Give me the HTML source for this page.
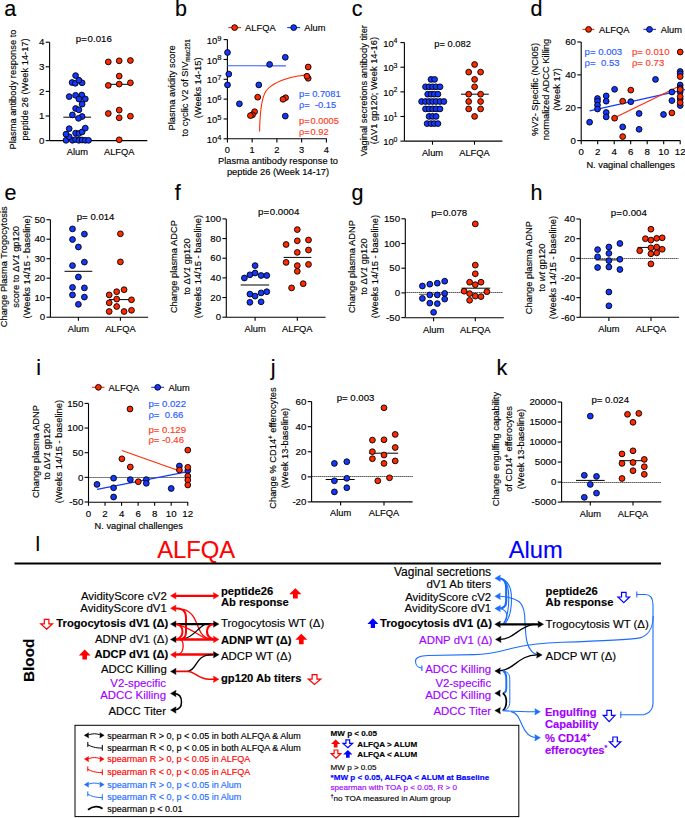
<!DOCTYPE html>
<html><head><meta charset="utf-8"><title>Figure</title>
<style>
html,body{margin:0;padding:0;background:#fff;}
body{width:685px;height:818px;overflow:hidden;}
svg{display:block;font-family:"Liberation Sans", sans-serif;}
</style></head>
<body>
<svg width="685" height="818" viewBox="0 0 685 818">
<rect width="685" height="818" fill="#fff"/>
<text x="4.30" y="15.50" font-size="21.5" text-anchor="start" fill="#000" stroke="#000" stroke-width="0.15">a</text>
<line x1="49.60" y1="42.20" x2="49.60" y2="140.60" stroke="#000" stroke-width="1.1"/>
<line x1="45.70" y1="42.20" x2="49.60" y2="42.20" stroke="#000" stroke-width="1.1"/>
<text x="44.40" y="45.45" font-size="9.7" text-anchor="end" fill="#000" stroke="#000" stroke-width="0.15">4</text>
<line x1="45.70" y1="66.80" x2="49.60" y2="66.80" stroke="#000" stroke-width="1.1"/>
<text x="44.40" y="70.05" font-size="9.7" text-anchor="end" fill="#000" stroke="#000" stroke-width="0.15">3</text>
<line x1="45.70" y1="91.40" x2="49.60" y2="91.40" stroke="#000" stroke-width="1.1"/>
<text x="44.40" y="94.65" font-size="9.7" text-anchor="end" fill="#000" stroke="#000" stroke-width="0.15">2</text>
<line x1="45.70" y1="116.00" x2="49.60" y2="116.00" stroke="#000" stroke-width="1.1"/>
<text x="44.40" y="119.25" font-size="9.7" text-anchor="end" fill="#000" stroke="#000" stroke-width="0.15">1</text>
<line x1="45.70" y1="140.60" x2="49.60" y2="140.60" stroke="#000" stroke-width="1.1"/>
<text x="44.40" y="143.85" font-size="9.7" text-anchor="end" fill="#000" stroke="#000" stroke-width="0.15">0</text>
<line x1="49.60" y1="140.60" x2="147.30" y2="140.60" stroke="#000" stroke-width="1.1"/>
<text x="93.80" y="42.30" font-size="9.7" text-anchor="middle" fill="#000" stroke="#000" stroke-width="0.15">p=<tspan dx="0.7">0.016</tspan></text>
<text x="77.30" y="155.30" font-size="9.3" text-anchor="middle" fill="#000" stroke="#000" stroke-width="0.15">Alum</text>
<text x="119.20" y="155.30" font-size="9.3" text-anchor="middle" fill="#000" stroke="#000" stroke-width="0.15">ALFQA</text>
<text x="15.70" y="89.50" font-size="9.3" text-anchor="middle" fill="#000" stroke="#000" stroke-width="0.15" transform="rotate(-90 15.7 89.5)">Plasma antibody response to</text>
<text x="27.50" y="89.50" font-size="9.3" text-anchor="middle" fill="#000" stroke="#000" stroke-width="0.15" transform="rotate(-90 27.5 89.5)">peptide 26 (Week 14-17)</text>
<line x1="63.30" y1="117.20" x2="91.10" y2="117.20" stroke="#000" stroke-width="1.0"/>
<line x1="109.00" y1="84.30" x2="130.50" y2="84.30" stroke="#000" stroke-width="1.0"/>
<circle cx="66.00" cy="140.30" r="2.9" fill="#1437ff" stroke="#000" stroke-width="0.9"/>
<circle cx="72.40" cy="140.30" r="2.9" fill="#1437ff" stroke="#000" stroke-width="0.9"/>
<circle cx="75.60" cy="139.50" r="2.9" fill="#1437ff" stroke="#000" stroke-width="0.9"/>
<circle cx="78.90" cy="140.30" r="2.9" fill="#1437ff" stroke="#000" stroke-width="0.9"/>
<circle cx="82.10" cy="140.00" r="2.9" fill="#1437ff" stroke="#000" stroke-width="0.9"/>
<circle cx="85.30" cy="140.30" r="2.9" fill="#1437ff" stroke="#000" stroke-width="0.9"/>
<circle cx="88.50" cy="140.30" r="2.9" fill="#1437ff" stroke="#000" stroke-width="0.9"/>
<circle cx="69.20" cy="136.80" r="2.9" fill="#1437ff" stroke="#000" stroke-width="0.9"/>
<circle cx="66.00" cy="134.20" r="2.9" fill="#1437ff" stroke="#000" stroke-width="0.9"/>
<circle cx="75.60" cy="133.10" r="2.9" fill="#1437ff" stroke="#000" stroke-width="0.9"/>
<circle cx="78.90" cy="133.50" r="2.9" fill="#1437ff" stroke="#000" stroke-width="0.9"/>
<circle cx="82.10" cy="131.90" r="2.9" fill="#1437ff" stroke="#000" stroke-width="0.9"/>
<circle cx="69.20" cy="128.70" r="2.9" fill="#1437ff" stroke="#000" stroke-width="0.9"/>
<circle cx="85.30" cy="128.10" r="2.9" fill="#1437ff" stroke="#000" stroke-width="0.9"/>
<circle cx="72.40" cy="114.90" r="2.9" fill="#1437ff" stroke="#000" stroke-width="0.9"/>
<circle cx="82.10" cy="116.50" r="2.9" fill="#1437ff" stroke="#000" stroke-width="0.9"/>
<circle cx="78.50" cy="118.30" r="2.9" fill="#1437ff" stroke="#000" stroke-width="0.9"/>
<circle cx="75.60" cy="108.50" r="2.9" fill="#1437ff" stroke="#000" stroke-width="0.9"/>
<circle cx="78.90" cy="109.80" r="2.9" fill="#1437ff" stroke="#000" stroke-width="0.9"/>
<circle cx="82.10" cy="104.20" r="2.9" fill="#1437ff" stroke="#000" stroke-width="0.9"/>
<circle cx="69.20" cy="96.60" r="2.9" fill="#1437ff" stroke="#000" stroke-width="0.9"/>
<circle cx="75.60" cy="95.30" r="2.9" fill="#1437ff" stroke="#000" stroke-width="0.9"/>
<circle cx="81.80" cy="95.00" r="2.9" fill="#1437ff" stroke="#000" stroke-width="0.9"/>
<circle cx="78.90" cy="99.00" r="2.9" fill="#1437ff" stroke="#000" stroke-width="0.9"/>
<circle cx="85.30" cy="98.90" r="2.9" fill="#1437ff" stroke="#000" stroke-width="0.9"/>
<circle cx="72.10" cy="82.50" r="2.9" fill="#1437ff" stroke="#000" stroke-width="0.9"/>
<circle cx="75.30" cy="83.30" r="2.9" fill="#1437ff" stroke="#000" stroke-width="0.9"/>
<circle cx="82.10" cy="82.80" r="2.9" fill="#1437ff" stroke="#000" stroke-width="0.9"/>
<circle cx="78.90" cy="80.20" r="2.9" fill="#1437ff" stroke="#000" stroke-width="0.9"/>
<circle cx="75.60" cy="75.60" r="2.9" fill="#1437ff" stroke="#000" stroke-width="0.9"/>
<circle cx="108.30" cy="61.90" r="2.9" fill="#ff2a00" stroke="#000" stroke-width="0.9"/>
<circle cx="119.20" cy="60.80" r="2.9" fill="#ff2a00" stroke="#000" stroke-width="0.9"/>
<circle cx="130.40" cy="60.50" r="2.9" fill="#ff2a00" stroke="#000" stroke-width="0.9"/>
<circle cx="119.20" cy="76.10" r="2.9" fill="#ff2a00" stroke="#000" stroke-width="0.9"/>
<circle cx="108.30" cy="85.40" r="2.9" fill="#ff2a00" stroke="#000" stroke-width="0.9"/>
<circle cx="119.20" cy="84.10" r="2.9" fill="#ff2a00" stroke="#000" stroke-width="0.9"/>
<circle cx="130.40" cy="82.80" r="2.9" fill="#ff2a00" stroke="#000" stroke-width="0.9"/>
<circle cx="108.30" cy="113.50" r="2.9" fill="#ff2a00" stroke="#000" stroke-width="0.9"/>
<circle cx="119.20" cy="110.10" r="2.9" fill="#ff2a00" stroke="#000" stroke-width="0.9"/>
<circle cx="119.20" cy="117.80" r="2.9" fill="#ff2a00" stroke="#000" stroke-width="0.9"/>
<circle cx="130.40" cy="116.20" r="2.9" fill="#ff2a00" stroke="#000" stroke-width="0.9"/>
<circle cx="119.20" cy="139.80" r="2.9" fill="#ff2a00" stroke="#000" stroke-width="0.9"/>
<text x="175.10" y="15.50" font-size="21.5" text-anchor="start" fill="#000" stroke="#000" stroke-width="0.15">b</text>
<line x1="227.40" y1="39.60" x2="227.40" y2="138.80" stroke="#000" stroke-width="1.1"/>
<line x1="223.60" y1="39.60" x2="227.40" y2="39.60" stroke="#000" stroke-width="1.1"/>
<text x="217.40" y="43.70" font-size="9.5" text-anchor="end" fill="#000" stroke="#000" stroke-width="0.15">10</text>
<text x="217.30" y="40.60" font-size="7.6" text-anchor="start" fill="#000" stroke="#000" stroke-width="0.15">9</text>
<line x1="223.60" y1="59.44" x2="227.40" y2="59.44" stroke="#000" stroke-width="1.1"/>
<text x="217.40" y="63.54" font-size="9.5" text-anchor="end" fill="#000" stroke="#000" stroke-width="0.15">10</text>
<text x="217.30" y="60.44" font-size="7.6" text-anchor="start" fill="#000" stroke="#000" stroke-width="0.15">8</text>
<line x1="223.60" y1="79.28" x2="227.40" y2="79.28" stroke="#000" stroke-width="1.1"/>
<text x="217.40" y="83.38" font-size="9.5" text-anchor="end" fill="#000" stroke="#000" stroke-width="0.15">10</text>
<text x="217.30" y="80.28" font-size="7.6" text-anchor="start" fill="#000" stroke="#000" stroke-width="0.15">7</text>
<line x1="223.60" y1="99.12" x2="227.40" y2="99.12" stroke="#000" stroke-width="1.1"/>
<text x="217.40" y="103.22" font-size="9.5" text-anchor="end" fill="#000" stroke="#000" stroke-width="0.15">10</text>
<text x="217.30" y="100.12" font-size="7.6" text-anchor="start" fill="#000" stroke="#000" stroke-width="0.15">6</text>
<line x1="223.60" y1="118.96" x2="227.40" y2="118.96" stroke="#000" stroke-width="1.1"/>
<text x="217.40" y="123.06" font-size="9.5" text-anchor="end" fill="#000" stroke="#000" stroke-width="0.15">10</text>
<text x="217.30" y="119.96" font-size="7.6" text-anchor="start" fill="#000" stroke="#000" stroke-width="0.15">5</text>
<line x1="223.60" y1="138.80" x2="227.40" y2="138.80" stroke="#000" stroke-width="1.1"/>
<text x="217.40" y="142.90" font-size="9.5" text-anchor="end" fill="#000" stroke="#000" stroke-width="0.15">10</text>
<text x="217.30" y="139.80" font-size="7.6" text-anchor="start" fill="#000" stroke="#000" stroke-width="0.15">4</text>
<line x1="227.40" y1="138.80" x2="326.80" y2="138.80" stroke="#000" stroke-width="1.1"/>
<line x1="227.40" y1="138.80" x2="227.40" y2="142.60" stroke="#000" stroke-width="1.1"/>
<text x="227.40" y="152.80" font-size="9.3" text-anchor="middle" fill="#000" stroke="#000" stroke-width="0.15">0</text>
<line x1="252.15" y1="138.80" x2="252.15" y2="142.60" stroke="#000" stroke-width="1.1"/>
<text x="252.15" y="152.80" font-size="9.3" text-anchor="middle" fill="#000" stroke="#000" stroke-width="0.15">1</text>
<line x1="276.90" y1="138.80" x2="276.90" y2="142.60" stroke="#000" stroke-width="1.1"/>
<text x="276.90" y="152.80" font-size="9.3" text-anchor="middle" fill="#000" stroke="#000" stroke-width="0.15">2</text>
<line x1="301.65" y1="138.80" x2="301.65" y2="142.60" stroke="#000" stroke-width="1.1"/>
<text x="301.65" y="152.80" font-size="9.3" text-anchor="middle" fill="#000" stroke="#000" stroke-width="0.15">3</text>
<line x1="326.40" y1="138.80" x2="326.40" y2="142.60" stroke="#000" stroke-width="1.1"/>
<text x="326.40" y="152.80" font-size="9.3" text-anchor="middle" fill="#000" stroke="#000" stroke-width="0.15">4</text>
<line x1="228.20" y1="27.60" x2="241.20" y2="27.60" stroke="#ff2a00" stroke-width="1.1"/>
<circle cx="234.60" cy="27.60" r="2.9" fill="#ff2a00" stroke="#000" stroke-width="0.9"/>
<text x="245.10" y="30.90" font-size="9.3" text-anchor="start" fill="#000" stroke="#000" stroke-width="0.15">ALFQA</text>
<line x1="287.20" y1="27.60" x2="300.20" y2="27.60" stroke="#1437ff" stroke-width="1.1"/>
<circle cx="293.70" cy="27.60" r="2.9" fill="#1437ff" stroke="#000" stroke-width="0.9"/>
<text x="304.30" y="30.90" font-size="9.3" text-anchor="start" fill="#000" stroke="#000" stroke-width="0.15">Alum</text>
<line x1="227.40" y1="65.70" x2="285.90" y2="65.90" stroke="#3a5cff" stroke-width="1.1"/>
<path d="M259.6,131.4 C259.9,110 261.5,98 266,91 C272,83 283,79 296.4,76.2 L306.9,74.9" stroke="#ff2a00" stroke-width="1.1" fill="none"/>
<circle cx="227.50" cy="52.50" r="2.9" fill="#1437ff" stroke="#000" stroke-width="0.9"/>
<circle cx="228.80" cy="74.10" r="2.9" fill="#1437ff" stroke="#000" stroke-width="0.9"/>
<circle cx="227.50" cy="84.90" r="2.9" fill="#1437ff" stroke="#000" stroke-width="0.9"/>
<circle cx="239.40" cy="103.80" r="2.9" fill="#1437ff" stroke="#000" stroke-width="0.9"/>
<circle cx="258.80" cy="84.90" r="2.9" fill="#1437ff" stroke="#000" stroke-width="0.9"/>
<circle cx="269.60" cy="64.40" r="2.9" fill="#1437ff" stroke="#000" stroke-width="0.9"/>
<circle cx="285.30" cy="57.30" r="2.9" fill="#1437ff" stroke="#000" stroke-width="0.9"/>
<circle cx="285.30" cy="116.10" r="2.9" fill="#1437ff" stroke="#000" stroke-width="0.9"/>
<circle cx="254.60" cy="111.70" r="2.9" fill="#ff2a00" stroke="#000" stroke-width="0.9"/>
<circle cx="252.50" cy="114.80" r="2.9" fill="#ff2a00" stroke="#000" stroke-width="0.9"/>
<circle cx="250.40" cy="115.60" r="2.9" fill="#ff2a00" stroke="#000" stroke-width="0.9"/>
<circle cx="257.70" cy="97.20" r="2.9" fill="#ff2a00" stroke="#000" stroke-width="0.9"/>
<circle cx="285.60" cy="97.70" r="2.9" fill="#ff2a00" stroke="#000" stroke-width="0.9"/>
<circle cx="283.00" cy="99.30" r="2.9" fill="#ff2a00" stroke="#000" stroke-width="0.9"/>
<circle cx="308.20" cy="67.00" r="2.9" fill="#ff2a00" stroke="#000" stroke-width="0.9"/>
<circle cx="308.20" cy="78.30" r="2.9" fill="#ff2a00" stroke="#000" stroke-width="0.9"/>
<circle cx="306.90" cy="76.20" r="2.9" fill="#ff2a00" stroke="#000" stroke-width="0.9"/>
<text x="299.00" y="96.60" font-size="9.3" text-anchor="start" fill="#2a5aff" stroke="#2a5aff" stroke-width="0.15">p= 0.7081</text>
<text x="299.00" y="107.90" font-size="9.3" text-anchor="start" fill="#2a5aff" stroke="#2a5aff" stroke-width="0.15">ρ=  -0.15</text>
<text x="299.00" y="123.60" font-size="9.3" text-anchor="start" fill="#ff3a1e" stroke="#ff3a1e" stroke-width="0.15">p=<tspan dx="0.9">0.0005</tspan></text>
<text x="299.00" y="135.00" font-size="9.3" text-anchor="start" fill="#ff3a1e" stroke="#ff3a1e" stroke-width="0.15">ρ=<tspan dx="0.9">0.92</tspan></text>
<text x="278.00" y="164.00" font-size="9.3" text-anchor="middle" fill="#000" stroke="#000" stroke-width="0.15">Plasma antibody response to</text>
<text x="278.00" y="175.30" font-size="9.3" text-anchor="middle" fill="#000" stroke="#000" stroke-width="0.15">peptide 26 (Week 14-17)</text>
<text x="175.50" y="87.90" font-size="9.3" text-anchor="middle" fill="#000" stroke="#000" stroke-width="0.15" transform="rotate(-90 175.5 87.9)">Plasma avidity score</text>
<text x="188.20" y="87.90" font-size="9.3" text-anchor="middle" fill="#000" stroke="#000" stroke-width="0.15" transform="rotate(-90 188.2 87.9)">to cyclic V2 of SIV<tspan font-size="6.3" dy="2">mac251</tspan></text>
<text x="200.90" y="87.90" font-size="9.3" text-anchor="middle" fill="#000" stroke="#000" stroke-width="0.15" transform="rotate(-90 200.9 87.9)">(Weeks 14-15)</text>
<text x="351.80" y="15.60" font-size="21.5" text-anchor="start" fill="#000" stroke="#000" stroke-width="0.15">c</text>
<line x1="404.40" y1="42.60" x2="404.40" y2="141.12" stroke="#000" stroke-width="1.1"/>
<line x1="400.40" y1="42.60" x2="404.40" y2="42.60" stroke="#000" stroke-width="1.1"/>
<text x="393.70" y="46.70" font-size="9.4" text-anchor="end" fill="#000" stroke="#000" stroke-width="0.15">10</text>
<text x="393.60" y="43.20" font-size="7.0" text-anchor="start" fill="#000" stroke="#000" stroke-width="0.15">4</text>
<line x1="400.40" y1="67.23" x2="404.40" y2="67.23" stroke="#000" stroke-width="1.1"/>
<text x="393.70" y="71.33" font-size="9.4" text-anchor="end" fill="#000" stroke="#000" stroke-width="0.15">10</text>
<text x="393.60" y="67.83" font-size="7.0" text-anchor="start" fill="#000" stroke="#000" stroke-width="0.15">3</text>
<line x1="400.40" y1="91.86" x2="404.40" y2="91.86" stroke="#000" stroke-width="1.1"/>
<text x="393.70" y="95.96" font-size="9.4" text-anchor="end" fill="#000" stroke="#000" stroke-width="0.15">10</text>
<text x="393.60" y="92.46" font-size="7.0" text-anchor="start" fill="#000" stroke="#000" stroke-width="0.15">2</text>
<line x1="400.40" y1="116.49" x2="404.40" y2="116.49" stroke="#000" stroke-width="1.1"/>
<text x="393.70" y="120.59" font-size="9.4" text-anchor="end" fill="#000" stroke="#000" stroke-width="0.15">10</text>
<text x="393.60" y="117.09" font-size="7.0" text-anchor="start" fill="#000" stroke="#000" stroke-width="0.15">1</text>
<line x1="400.40" y1="141.12" x2="404.40" y2="141.12" stroke="#000" stroke-width="1.1"/>
<text x="393.70" y="145.22" font-size="9.4" text-anchor="end" fill="#000" stroke="#000" stroke-width="0.15">10</text>
<text x="393.60" y="141.72" font-size="7.0" text-anchor="start" fill="#000" stroke="#000" stroke-width="0.15">0</text>
<line x1="404.40" y1="141.10" x2="502.40" y2="141.10" stroke="#000" stroke-width="1.1"/>
<line x1="432.50" y1="141.10" x2="432.50" y2="144.70" stroke="#000" stroke-width="1.1"/>
<line x1="474.50" y1="141.10" x2="474.50" y2="144.70" stroke="#000" stroke-width="1.1"/>
<text x="432.50" y="155.50" font-size="9.3" text-anchor="middle" fill="#000" stroke="#000" stroke-width="0.15">Alum</text>
<text x="474.50" y="155.50" font-size="9.3" text-anchor="middle" fill="#000" stroke="#000" stroke-width="0.15">ALFQA</text>
<text x="452.60" y="47.20" font-size="9.3" text-anchor="middle" fill="#000" stroke="#000" stroke-width="0.15">p= 0.082</text>
<text x="366.70" y="90.60" font-size="9.3" text-anchor="middle" fill="#000" stroke="#000" stroke-width="0.15" transform="rotate(-90 366.70000000000005 90.6)">Vaginal secretions antibody titer</text>
<text x="377.50" y="90.60" font-size="9.3" text-anchor="middle" fill="#000" stroke="#000" stroke-width="0.15" transform="rotate(-90 377.5 90.6)">(ΔV1 gp120; Week 14-16)</text>
<circle cx="431.00" cy="79.40" r="2.9" fill="#1437ff" stroke="#000" stroke-width="0.9"/>
<circle cx="434.60" cy="79.40" r="2.9" fill="#1437ff" stroke="#000" stroke-width="0.9"/>
<circle cx="425.50" cy="86.80" r="2.9" fill="#1437ff" stroke="#000" stroke-width="0.9"/>
<circle cx="429.10" cy="86.80" r="2.9" fill="#1437ff" stroke="#000" stroke-width="0.9"/>
<circle cx="432.60" cy="86.80" r="2.9" fill="#1437ff" stroke="#000" stroke-width="0.9"/>
<circle cx="436.10" cy="86.80" r="2.9" fill="#1437ff" stroke="#000" stroke-width="0.9"/>
<circle cx="440.00" cy="86.80" r="2.9" fill="#1437ff" stroke="#000" stroke-width="0.9"/>
<circle cx="427.70" cy="94.20" r="2.9" fill="#1437ff" stroke="#000" stroke-width="0.9"/>
<circle cx="431.00" cy="94.20" r="2.9" fill="#1437ff" stroke="#000" stroke-width="0.9"/>
<circle cx="434.30" cy="94.20" r="2.9" fill="#1437ff" stroke="#000" stroke-width="0.9"/>
<circle cx="437.90" cy="94.20" r="2.9" fill="#1437ff" stroke="#000" stroke-width="0.9"/>
<circle cx="421.60" cy="101.50" r="2.9" fill="#1437ff" stroke="#000" stroke-width="0.9"/>
<circle cx="425.50" cy="101.50" r="2.9" fill="#1437ff" stroke="#000" stroke-width="0.9"/>
<circle cx="429.10" cy="101.50" r="2.9" fill="#1437ff" stroke="#000" stroke-width="0.9"/>
<circle cx="432.60" cy="101.50" r="2.9" fill="#1437ff" stroke="#000" stroke-width="0.9"/>
<circle cx="436.10" cy="101.50" r="2.9" fill="#1437ff" stroke="#000" stroke-width="0.9"/>
<circle cx="440.00" cy="101.50" r="2.9" fill="#1437ff" stroke="#000" stroke-width="0.9"/>
<circle cx="443.90" cy="101.50" r="2.9" fill="#1437ff" stroke="#000" stroke-width="0.9"/>
<circle cx="425.50" cy="108.90" r="2.9" fill="#1437ff" stroke="#000" stroke-width="0.9"/>
<circle cx="429.10" cy="108.90" r="2.9" fill="#1437ff" stroke="#000" stroke-width="0.9"/>
<circle cx="432.60" cy="108.90" r="2.9" fill="#1437ff" stroke="#000" stroke-width="0.9"/>
<circle cx="436.10" cy="108.90" r="2.9" fill="#1437ff" stroke="#000" stroke-width="0.9"/>
<circle cx="440.00" cy="108.90" r="2.9" fill="#1437ff" stroke="#000" stroke-width="0.9"/>
<circle cx="429.10" cy="116.40" r="2.9" fill="#1437ff" stroke="#000" stroke-width="0.9"/>
<circle cx="432.60" cy="116.40" r="2.9" fill="#1437ff" stroke="#000" stroke-width="0.9"/>
<circle cx="436.10" cy="116.40" r="2.9" fill="#1437ff" stroke="#000" stroke-width="0.9"/>
<circle cx="427.10" cy="123.60" r="2.9" fill="#1437ff" stroke="#000" stroke-width="0.9"/>
<circle cx="431.00" cy="123.60" r="2.9" fill="#1437ff" stroke="#000" stroke-width="0.9"/>
<circle cx="434.30" cy="123.60" r="2.9" fill="#1437ff" stroke="#000" stroke-width="0.9"/>
<circle cx="437.90" cy="123.60" r="2.9" fill="#1437ff" stroke="#000" stroke-width="0.9"/>
<line x1="461.00" y1="94.20" x2="488.80" y2="94.20" stroke="#000" stroke-width="1.0"/>
<circle cx="474.60" cy="64.50" r="2.9" fill="#ff2a00" stroke="#000" stroke-width="0.9"/>
<circle cx="468.70" cy="72.10" r="2.9" fill="#ff2a00" stroke="#000" stroke-width="0.9"/>
<circle cx="480.60" cy="72.10" r="2.9" fill="#ff2a00" stroke="#000" stroke-width="0.9"/>
<circle cx="474.60" cy="79.40" r="2.9" fill="#ff2a00" stroke="#000" stroke-width="0.9"/>
<circle cx="474.60" cy="86.80" r="2.9" fill="#ff2a00" stroke="#000" stroke-width="0.9"/>
<circle cx="468.70" cy="94.20" r="2.9" fill="#ff2a00" stroke="#000" stroke-width="0.9"/>
<circle cx="480.60" cy="94.20" r="2.9" fill="#ff2a00" stroke="#000" stroke-width="0.9"/>
<circle cx="468.70" cy="101.50" r="2.9" fill="#ff2a00" stroke="#000" stroke-width="0.9"/>
<circle cx="480.60" cy="101.50" r="2.9" fill="#ff2a00" stroke="#000" stroke-width="0.9"/>
<circle cx="468.70" cy="108.90" r="2.9" fill="#ff2a00" stroke="#000" stroke-width="0.9"/>
<circle cx="480.60" cy="108.90" r="2.9" fill="#ff2a00" stroke="#000" stroke-width="0.9"/>
<circle cx="474.60" cy="116.40" r="2.9" fill="#ff2a00" stroke="#000" stroke-width="0.9"/>
<text x="530.50" y="15.60" font-size="21.5" text-anchor="start" fill="#000" stroke="#000" stroke-width="0.15">d</text>
<line x1="581.20" y1="42.00" x2="581.20" y2="140.61" stroke="#000" stroke-width="1.1"/>
<line x1="577.30" y1="42.00" x2="581.20" y2="42.00" stroke="#000" stroke-width="1.1"/>
<text x="576.00" y="45.25" font-size="9.7" text-anchor="end" fill="#000" stroke="#000" stroke-width="0.15">60</text>
<line x1="577.30" y1="74.87" x2="581.20" y2="74.87" stroke="#000" stroke-width="1.1"/>
<text x="576.00" y="78.12" font-size="9.7" text-anchor="end" fill="#000" stroke="#000" stroke-width="0.15">40</text>
<line x1="577.30" y1="107.74" x2="581.20" y2="107.74" stroke="#000" stroke-width="1.1"/>
<text x="576.00" y="110.99" font-size="9.7" text-anchor="end" fill="#000" stroke="#000" stroke-width="0.15">20</text>
<line x1="577.30" y1="140.61" x2="581.20" y2="140.61" stroke="#000" stroke-width="1.1"/>
<text x="576.00" y="143.86" font-size="9.7" text-anchor="end" fill="#000" stroke="#000" stroke-width="0.15">0</text>
<line x1="581.20" y1="140.60" x2="680.30" y2="140.60" stroke="#000" stroke-width="1.1"/>
<line x1="581.20" y1="140.60" x2="581.20" y2="144.20" stroke="#000" stroke-width="1.1"/>
<text x="581.20" y="154.90" font-size="9.7" text-anchor="middle" fill="#000" stroke="#000" stroke-width="0.15">0</text>
<line x1="597.70" y1="140.60" x2="597.70" y2="144.20" stroke="#000" stroke-width="1.1"/>
<text x="597.70" y="154.90" font-size="9.7" text-anchor="middle" fill="#000" stroke="#000" stroke-width="0.15">2</text>
<line x1="614.20" y1="140.60" x2="614.20" y2="144.20" stroke="#000" stroke-width="1.1"/>
<text x="614.20" y="154.90" font-size="9.7" text-anchor="middle" fill="#000" stroke="#000" stroke-width="0.15">4</text>
<line x1="630.70" y1="140.60" x2="630.70" y2="144.20" stroke="#000" stroke-width="1.1"/>
<text x="630.70" y="154.90" font-size="9.7" text-anchor="middle" fill="#000" stroke="#000" stroke-width="0.15">6</text>
<line x1="647.20" y1="140.60" x2="647.20" y2="144.20" stroke="#000" stroke-width="1.1"/>
<text x="647.20" y="154.90" font-size="9.7" text-anchor="middle" fill="#000" stroke="#000" stroke-width="0.15">8</text>
<line x1="663.70" y1="140.60" x2="663.70" y2="144.20" stroke="#000" stroke-width="1.1"/>
<text x="663.70" y="154.90" font-size="9.7" text-anchor="middle" fill="#000" stroke="#000" stroke-width="0.15">10</text>
<line x1="680.20" y1="140.60" x2="680.20" y2="144.20" stroke="#000" stroke-width="1.1"/>
<text x="680.20" y="154.90" font-size="9.7" text-anchor="middle" fill="#000" stroke="#000" stroke-width="0.15">12</text>
<text x="630.60" y="167.60" font-size="9.3" text-anchor="middle" fill="#000" stroke="#000" stroke-width="0.15">N. vaginal challenges</text>
<text x="538.10" y="89.50" font-size="9.3" text-anchor="middle" fill="#000" stroke="#000" stroke-width="0.15" transform="rotate(-90 538.1 89.5)">%V2- Specific (NCI05)</text>
<text x="549.20" y="89.50" font-size="9.3" text-anchor="middle" fill="#000" stroke="#000" stroke-width="0.15" transform="rotate(-90 549.2 89.5)">normalized ADCC Killing</text>
<text x="560.00" y="89.50" font-size="9.3" text-anchor="middle" fill="#000" stroke="#000" stroke-width="0.15" transform="rotate(-90 560.0 89.5)">(Week 17)</text>
<line x1="582.50" y1="29.40" x2="594.30" y2="29.40" stroke="#ff2a00" stroke-width="1.1"/>
<circle cx="588.60" cy="29.40" r="2.9" fill="#ff2a00" stroke="#000" stroke-width="0.9"/>
<text x="599.00" y="32.70" font-size="9.3" text-anchor="start" fill="#000" stroke="#000" stroke-width="0.15">ALFQA</text>
<line x1="643.50" y1="29.40" x2="656.00" y2="29.40" stroke="#1437ff" stroke-width="1.1"/>
<circle cx="649.50" cy="29.40" r="2.9" fill="#1437ff" stroke="#000" stroke-width="0.9"/>
<text x="660.80" y="32.70" font-size="9.3" text-anchor="start" fill="#000" stroke="#000" stroke-width="0.15">Alum</text>
<text x="584.60" y="55.30" font-size="9.6" text-anchor="start" fill="#2a5aff" stroke="#2a5aff" stroke-width="0.15">p= 0.003</text>
<text x="584.60" y="65.80" font-size="9.6" text-anchor="start" fill="#2a5aff" stroke="#2a5aff" stroke-width="0.15">ρ=  0.53</text>
<text x="631.90" y="55.30" font-size="9.6" text-anchor="start" fill="#ff3a1e" stroke="#ff3a1e" stroke-width="0.15">p= 0.010</text>
<text x="631.90" y="65.80" font-size="9.6" text-anchor="start" fill="#ff3a1e" stroke="#ff3a1e" stroke-width="0.15">ρ= 0.73</text>
<line x1="589.60" y1="110.90" x2="685.00" y2="89.60" stroke="#1437ff" stroke-width="1.1"/>
<line x1="614.60" y1="117.70" x2="678.00" y2="86.80" stroke="#ff2a00" stroke-width="1.1"/>
<circle cx="589.60" cy="122.20" r="2.9" fill="#1437ff" stroke="#000" stroke-width="0.9"/>
<circle cx="597.50" cy="98.50" r="2.9" fill="#1437ff" stroke="#000" stroke-width="0.9"/>
<circle cx="597.50" cy="101.20" r="2.9" fill="#1437ff" stroke="#000" stroke-width="0.9"/>
<circle cx="597.50" cy="105.10" r="2.9" fill="#1437ff" stroke="#000" stroke-width="0.9"/>
<circle cx="597.50" cy="109.00" r="2.9" fill="#1437ff" stroke="#000" stroke-width="0.9"/>
<circle cx="606.20" cy="95.90" r="2.9" fill="#1437ff" stroke="#000" stroke-width="0.9"/>
<circle cx="606.20" cy="101.20" r="2.9" fill="#1437ff" stroke="#000" stroke-width="0.9"/>
<circle cx="606.20" cy="112.50" r="2.9" fill="#1437ff" stroke="#000" stroke-width="0.9"/>
<circle cx="606.20" cy="116.90" r="2.9" fill="#1437ff" stroke="#000" stroke-width="0.9"/>
<circle cx="614.60" cy="89.30" r="2.9" fill="#1437ff" stroke="#000" stroke-width="0.9"/>
<circle cx="622.70" cy="126.90" r="2.9" fill="#1437ff" stroke="#000" stroke-width="0.9"/>
<circle cx="630.80" cy="101.70" r="2.9" fill="#1437ff" stroke="#000" stroke-width="0.9"/>
<circle cx="639.10" cy="113.50" r="2.9" fill="#1437ff" stroke="#000" stroke-width="0.9"/>
<circle cx="639.10" cy="129.30" r="2.9" fill="#1437ff" stroke="#000" stroke-width="0.9"/>
<circle cx="655.50" cy="79.40" r="2.9" fill="#1437ff" stroke="#000" stroke-width="0.9"/>
<circle cx="663.50" cy="114.50" r="2.9" fill="#1437ff" stroke="#000" stroke-width="0.9"/>
<circle cx="671.90" cy="92.00" r="2.9" fill="#1437ff" stroke="#000" stroke-width="0.9"/>
<circle cx="671.90" cy="100.60" r="2.9" fill="#1437ff" stroke="#000" stroke-width="0.9"/>
<circle cx="680.20" cy="71.50" r="2.9" fill="#1437ff" stroke="#000" stroke-width="0.9"/>
<circle cx="680.20" cy="73.70" r="2.9" fill="#1437ff" stroke="#000" stroke-width="0.9"/>
<circle cx="680.20" cy="85.00" r="2.9" fill="#1437ff" stroke="#000" stroke-width="0.9"/>
<circle cx="680.20" cy="88.00" r="2.9" fill="#1437ff" stroke="#000" stroke-width="0.9"/>
<circle cx="680.20" cy="92.00" r="2.9" fill="#1437ff" stroke="#000" stroke-width="0.9"/>
<circle cx="680.20" cy="99.00" r="2.9" fill="#1437ff" stroke="#000" stroke-width="0.9"/>
<circle cx="680.20" cy="105.50" r="2.9" fill="#1437ff" stroke="#000" stroke-width="0.9"/>
<circle cx="614.60" cy="118.20" r="2.9" fill="#ff2a00" stroke="#000" stroke-width="0.9"/>
<circle cx="622.70" cy="101.20" r="2.9" fill="#ff2a00" stroke="#000" stroke-width="0.9"/>
<circle cx="622.70" cy="136.60" r="2.9" fill="#ff2a00" stroke="#000" stroke-width="0.9"/>
<circle cx="630.80" cy="90.10" r="2.9" fill="#ff2a00" stroke="#000" stroke-width="0.9"/>
<circle cx="671.90" cy="112.90" r="2.9" fill="#ff2a00" stroke="#000" stroke-width="0.9"/>
<circle cx="680.20" cy="52.00" r="2.9" fill="#ff2a00" stroke="#000" stroke-width="0.9"/>
<circle cx="680.20" cy="76.60" r="2.9" fill="#ff2a00" stroke="#000" stroke-width="0.9"/>
<circle cx="680.20" cy="89.50" r="2.9" fill="#ff2a00" stroke="#000" stroke-width="0.9"/>
<circle cx="680.20" cy="96.50" r="2.9" fill="#ff2a00" stroke="#000" stroke-width="0.9"/>
<circle cx="680.20" cy="102.60" r="2.9" fill="#ff2a00" stroke="#000" stroke-width="0.9"/>
<text x="4.50" y="199.90" font-size="21.5" text-anchor="start" fill="#000" stroke="#000" stroke-width="0.15">e</text>
<line x1="50.40" y1="219.70" x2="50.40" y2="317.20" stroke="#000" stroke-width="1.1"/>
<line x1="46.50" y1="219.70" x2="50.40" y2="219.70" stroke="#000" stroke-width="1.1"/>
<text x="45.20" y="222.95" font-size="9.7" text-anchor="end" fill="#000" stroke="#000" stroke-width="0.15">50</text>
<line x1="46.50" y1="239.20" x2="50.40" y2="239.20" stroke="#000" stroke-width="1.1"/>
<text x="45.20" y="242.45" font-size="9.7" text-anchor="end" fill="#000" stroke="#000" stroke-width="0.15">40</text>
<line x1="46.50" y1="258.70" x2="50.40" y2="258.70" stroke="#000" stroke-width="1.1"/>
<text x="45.20" y="261.95" font-size="9.7" text-anchor="end" fill="#000" stroke="#000" stroke-width="0.15">30</text>
<line x1="46.50" y1="278.20" x2="50.40" y2="278.20" stroke="#000" stroke-width="1.1"/>
<text x="45.20" y="281.45" font-size="9.7" text-anchor="end" fill="#000" stroke="#000" stroke-width="0.15">20</text>
<line x1="46.50" y1="297.70" x2="50.40" y2="297.70" stroke="#000" stroke-width="1.1"/>
<text x="45.20" y="300.95" font-size="9.7" text-anchor="end" fill="#000" stroke="#000" stroke-width="0.15">10</text>
<line x1="46.50" y1="317.20" x2="50.40" y2="317.20" stroke="#000" stroke-width="1.1"/>
<text x="45.20" y="320.45" font-size="9.7" text-anchor="end" fill="#000" stroke="#000" stroke-width="0.15">0</text>
<line x1="50.40" y1="317.20" x2="148.20" y2="317.20" stroke="#000" stroke-width="1.1"/>
<line x1="78.40" y1="317.20" x2="78.40" y2="320.80" stroke="#000" stroke-width="1.1"/>
<line x1="120.40" y1="317.20" x2="120.40" y2="320.80" stroke="#000" stroke-width="1.1"/>
<text x="78.40" y="332.00" font-size="9.3" text-anchor="middle" fill="#000" stroke="#000" stroke-width="0.15">Alum</text>
<text x="120.40" y="332.00" font-size="9.3" text-anchor="middle" fill="#000" stroke="#000" stroke-width="0.15">ALFQA</text>
<text x="95.60" y="220.40" font-size="9.6" text-anchor="middle" fill="#000" stroke="#000" stroke-width="0.15">p= 0.014</text>
<text x="7.10" y="266.80" font-size="9.3" text-anchor="middle" fill="#000" stroke="#000" stroke-width="0.15" transform="rotate(-90 7.1 266.8)">Change Plasma Trogocytosis</text>
<text x="19.00" y="266.80" font-size="9.3" text-anchor="middle" fill="#000" stroke="#000" stroke-width="0.15" transform="rotate(-90 19.0 266.8)">score to Δ<tspan font-style="italic">V1</tspan> gp120</text>
<text x="29.60" y="266.80" font-size="9.3" text-anchor="middle" fill="#000" stroke="#000" stroke-width="0.15" transform="rotate(-90 29.6 266.8)">(Weeks 14/15 - baseline)</text>
<line x1="64.50" y1="271.30" x2="92.30" y2="271.30" stroke="#000" stroke-width="1.0"/>
<line x1="109.00" y1="299.60" x2="131.50" y2="299.60" stroke="#000" stroke-width="1.0"/>
<circle cx="72.50" cy="228.90" r="2.9" fill="#1437ff" stroke="#000" stroke-width="0.9"/>
<circle cx="84.40" cy="234.10" r="2.9" fill="#1437ff" stroke="#000" stroke-width="0.9"/>
<circle cx="72.50" cy="239.50" r="2.9" fill="#1437ff" stroke="#000" stroke-width="0.9"/>
<circle cx="78.40" cy="247.00" r="2.9" fill="#1437ff" stroke="#000" stroke-width="0.9"/>
<circle cx="84.40" cy="262.10" r="2.9" fill="#1437ff" stroke="#000" stroke-width="0.9"/>
<circle cx="72.50" cy="265.60" r="2.9" fill="#1437ff" stroke="#000" stroke-width="0.9"/>
<circle cx="78.40" cy="277.00" r="2.9" fill="#1437ff" stroke="#000" stroke-width="0.9"/>
<circle cx="72.50" cy="287.40" r="2.9" fill="#1437ff" stroke="#000" stroke-width="0.9"/>
<circle cx="84.40" cy="287.90" r="2.9" fill="#1437ff" stroke="#000" stroke-width="0.9"/>
<circle cx="72.50" cy="294.90" r="2.9" fill="#1437ff" stroke="#000" stroke-width="0.9"/>
<circle cx="84.40" cy="297.10" r="2.9" fill="#1437ff" stroke="#000" stroke-width="0.9"/>
<circle cx="78.40" cy="304.30" r="2.9" fill="#1437ff" stroke="#000" stroke-width="0.9"/>
<circle cx="120.40" cy="233.80" r="2.9" fill="#ff2a00" stroke="#000" stroke-width="0.9"/>
<circle cx="120.40" cy="261.90" r="2.9" fill="#ff2a00" stroke="#000" stroke-width="0.9"/>
<circle cx="109.20" cy="294.90" r="2.9" fill="#ff2a00" stroke="#000" stroke-width="0.9"/>
<circle cx="116.70" cy="291.70" r="2.9" fill="#ff2a00" stroke="#000" stroke-width="0.9"/>
<circle cx="124.10" cy="289.70" r="2.9" fill="#ff2a00" stroke="#000" stroke-width="0.9"/>
<circle cx="109.20" cy="302.80" r="2.9" fill="#ff2a00" stroke="#000" stroke-width="0.9"/>
<circle cx="116.70" cy="299.10" r="2.9" fill="#ff2a00" stroke="#000" stroke-width="0.9"/>
<circle cx="131.50" cy="299.80" r="2.9" fill="#ff2a00" stroke="#000" stroke-width="0.9"/>
<circle cx="116.70" cy="306.50" r="2.9" fill="#ff2a00" stroke="#000" stroke-width="0.9"/>
<circle cx="109.20" cy="311.50" r="2.9" fill="#ff2a00" stroke="#000" stroke-width="0.9"/>
<circle cx="124.10" cy="311.50" r="2.9" fill="#ff2a00" stroke="#000" stroke-width="0.9"/>
<circle cx="131.50" cy="310.30" r="2.9" fill="#ff2a00" stroke="#000" stroke-width="0.9"/>
<text x="174.70" y="199.90" font-size="21.5" text-anchor="start" fill="#000" stroke="#000" stroke-width="0.15">f</text>
<line x1="226.30" y1="218.90" x2="226.30" y2="317.20" stroke="#000" stroke-width="1.1"/>
<line x1="222.40" y1="218.90" x2="226.30" y2="218.90" stroke="#000" stroke-width="1.1"/>
<text x="221.10" y="222.15" font-size="9.7" text-anchor="end" fill="#000" stroke="#000" stroke-width="0.15">100</text>
<line x1="222.40" y1="238.56" x2="226.30" y2="238.56" stroke="#000" stroke-width="1.1"/>
<text x="221.10" y="241.81" font-size="9.7" text-anchor="end" fill="#000" stroke="#000" stroke-width="0.15">80</text>
<line x1="222.40" y1="258.22" x2="226.30" y2="258.22" stroke="#000" stroke-width="1.1"/>
<text x="221.10" y="261.47" font-size="9.7" text-anchor="end" fill="#000" stroke="#000" stroke-width="0.15">60</text>
<line x1="222.40" y1="277.88" x2="226.30" y2="277.88" stroke="#000" stroke-width="1.1"/>
<text x="221.10" y="281.13" font-size="9.7" text-anchor="end" fill="#000" stroke="#000" stroke-width="0.15">40</text>
<line x1="222.40" y1="297.54" x2="226.30" y2="297.54" stroke="#000" stroke-width="1.1"/>
<text x="221.10" y="300.79" font-size="9.7" text-anchor="end" fill="#000" stroke="#000" stroke-width="0.15">20</text>
<line x1="222.40" y1="317.20" x2="226.30" y2="317.20" stroke="#000" stroke-width="1.1"/>
<text x="221.10" y="320.45" font-size="9.7" text-anchor="end" fill="#000" stroke="#000" stroke-width="0.15">0</text>
<line x1="226.30" y1="317.20" x2="325.60" y2="317.20" stroke="#000" stroke-width="1.1"/>
<line x1="255.10" y1="317.20" x2="255.10" y2="320.80" stroke="#000" stroke-width="1.1"/>
<line x1="297.30" y1="317.20" x2="297.30" y2="320.80" stroke="#000" stroke-width="1.1"/>
<text x="255.10" y="332.00" font-size="9.3" text-anchor="middle" fill="#000" stroke="#000" stroke-width="0.15">Alum</text>
<text x="297.30" y="332.00" font-size="9.3" text-anchor="middle" fill="#000" stroke="#000" stroke-width="0.15">ALFQA</text>
<text x="278.70" y="215.40" font-size="9.7" text-anchor="middle" fill="#000" stroke="#000" stroke-width="0.15">p=<tspan dx="0.7">0.0004</tspan></text>
<text x="177.50" y="266.60" font-size="9.3" text-anchor="middle" fill="#000" stroke="#000" stroke-width="0.15" transform="rotate(-90 177.5 266.6)">Change plasma ADCP</text>
<text x="189.90" y="266.60" font-size="9.3" text-anchor="middle" fill="#000" stroke="#000" stroke-width="0.15" transform="rotate(-90 189.9 266.6)">to Δ<tspan font-style="italic">V1</tspan> gp120</text>
<text x="201.00" y="266.60" font-size="9.3" text-anchor="middle" fill="#000" stroke="#000" stroke-width="0.15" transform="rotate(-90 201.0 266.6)">(Weeks 14/15 - baseline)</text>
<line x1="240.70" y1="285.00" x2="269.20" y2="285.00" stroke="#000" stroke-width="1.0"/>
<line x1="283.60" y1="257.40" x2="311.40" y2="257.40" stroke="#000" stroke-width="1.0"/>
<circle cx="255.10" cy="265.60" r="2.9" fill="#1437ff" stroke="#000" stroke-width="0.9"/>
<circle cx="244.40" cy="278.00" r="2.9" fill="#1437ff" stroke="#000" stroke-width="0.9"/>
<circle cx="249.90" cy="274.80" r="2.9" fill="#1437ff" stroke="#000" stroke-width="0.9"/>
<circle cx="255.10" cy="273.00" r="2.9" fill="#1437ff" stroke="#000" stroke-width="0.9"/>
<circle cx="261.10" cy="275.50" r="2.9" fill="#1437ff" stroke="#000" stroke-width="0.9"/>
<circle cx="266.80" cy="275.50" r="2.9" fill="#1437ff" stroke="#000" stroke-width="0.9"/>
<circle cx="249.90" cy="294.10" r="2.9" fill="#1437ff" stroke="#000" stroke-width="0.9"/>
<circle cx="255.10" cy="296.10" r="2.9" fill="#1437ff" stroke="#000" stroke-width="0.9"/>
<circle cx="261.10" cy="292.90" r="2.9" fill="#1437ff" stroke="#000" stroke-width="0.9"/>
<circle cx="266.80" cy="291.70" r="2.9" fill="#1437ff" stroke="#000" stroke-width="0.9"/>
<circle cx="249.90" cy="302.30" r="2.9" fill="#1437ff" stroke="#000" stroke-width="0.9"/>
<circle cx="261.10" cy="301.80" r="2.9" fill="#1437ff" stroke="#000" stroke-width="0.9"/>
<circle cx="297.30" cy="229.60" r="2.9" fill="#ff2a00" stroke="#000" stroke-width="0.9"/>
<circle cx="286.10" cy="244.50" r="2.9" fill="#ff2a00" stroke="#000" stroke-width="0.9"/>
<circle cx="297.30" cy="240.80" r="2.9" fill="#ff2a00" stroke="#000" stroke-width="0.9"/>
<circle cx="308.50" cy="240.00" r="2.9" fill="#ff2a00" stroke="#000" stroke-width="0.9"/>
<circle cx="297.30" cy="252.40" r="2.9" fill="#ff2a00" stroke="#000" stroke-width="0.9"/>
<circle cx="308.50" cy="250.00" r="2.9" fill="#ff2a00" stroke="#000" stroke-width="0.9"/>
<circle cx="286.10" cy="262.40" r="2.9" fill="#ff2a00" stroke="#000" stroke-width="0.9"/>
<circle cx="297.30" cy="265.60" r="2.9" fill="#ff2a00" stroke="#000" stroke-width="0.9"/>
<circle cx="308.50" cy="264.40" r="2.9" fill="#ff2a00" stroke="#000" stroke-width="0.9"/>
<circle cx="297.30" cy="271.30" r="2.9" fill="#ff2a00" stroke="#000" stroke-width="0.9"/>
<circle cx="303.20" cy="283.70" r="2.9" fill="#ff2a00" stroke="#000" stroke-width="0.9"/>
<circle cx="291.60" cy="287.90" r="2.9" fill="#ff2a00" stroke="#000" stroke-width="0.9"/>
<text x="351.50" y="199.90" font-size="21.5" text-anchor="start" fill="#000" stroke="#000" stroke-width="0.15">g</text>
<line x1="405.30" y1="218.80" x2="405.30" y2="317.60" stroke="#000" stroke-width="1.1"/>
<line x1="401.40" y1="218.80" x2="405.30" y2="218.80" stroke="#000" stroke-width="1.1"/>
<text x="400.10" y="222.05" font-size="9.7" text-anchor="end" fill="#000" stroke="#000" stroke-width="0.15">150</text>
<line x1="401.40" y1="243.50" x2="405.30" y2="243.50" stroke="#000" stroke-width="1.1"/>
<text x="400.10" y="246.75" font-size="9.7" text-anchor="end" fill="#000" stroke="#000" stroke-width="0.15">100</text>
<line x1="401.40" y1="268.20" x2="405.30" y2="268.20" stroke="#000" stroke-width="1.1"/>
<text x="400.10" y="271.45" font-size="9.7" text-anchor="end" fill="#000" stroke="#000" stroke-width="0.15">50</text>
<line x1="401.40" y1="292.90" x2="405.30" y2="292.90" stroke="#000" stroke-width="1.1"/>
<text x="400.10" y="296.15" font-size="9.7" text-anchor="end" fill="#000" stroke="#000" stroke-width="0.15">0</text>
<line x1="401.40" y1="317.60" x2="405.30" y2="317.60" stroke="#000" stroke-width="1.1"/>
<text x="400.10" y="320.85" font-size="9.7" text-anchor="end" fill="#000" stroke="#000" stroke-width="0.15">-50</text>
<line x1="405.30" y1="317.70" x2="503.80" y2="317.70" stroke="#000" stroke-width="1.1"/>
<line x1="405.30" y1="292.50" x2="502.60" y2="292.50" stroke="#111" stroke-width="1.0" stroke-dasharray="1.1,0.9"/>
<line x1="433.60" y1="317.70" x2="433.60" y2="321.30" stroke="#000" stroke-width="1.1"/>
<line x1="475.30" y1="317.70" x2="475.30" y2="321.30" stroke="#000" stroke-width="1.1"/>
<text x="433.60" y="332.50" font-size="9.3" text-anchor="middle" fill="#000" stroke="#000" stroke-width="0.15">Alum</text>
<text x="475.30" y="332.50" font-size="9.3" text-anchor="middle" fill="#000" stroke="#000" stroke-width="0.15">ALFQA</text>
<text x="449.20" y="215.90" font-size="9.7" text-anchor="middle" fill="#000" stroke="#000" stroke-width="0.15">p=<tspan dx="0.7">0.078</tspan></text>
<text x="355.30" y="266.60" font-size="9.3" text-anchor="middle" fill="#000" stroke="#000" stroke-width="0.15" transform="rotate(-90 355.3 266.6)">Change plasma ADNP</text>
<text x="367.10" y="266.60" font-size="9.3" text-anchor="middle" fill="#000" stroke="#000" stroke-width="0.15" transform="rotate(-90 367.1 266.6)">to Δ<tspan font-style="italic">V1</tspan> gp120</text>
<text x="378.40" y="266.60" font-size="9.3" text-anchor="middle" fill="#000" stroke="#000" stroke-width="0.15" transform="rotate(-90 378.40000000000003 266.6)">(Weeks 14/15 - baseline)</text>
<line x1="461.60" y1="288.20" x2="490.20" y2="288.20" stroke="#000" stroke-width="1.0"/>
<line x1="419.00" y1="294.30" x2="447.00" y2="294.30" stroke="#555" stroke-width="1.0"/>
<circle cx="422.40" cy="286.00" r="2.9" fill="#1437ff" stroke="#000" stroke-width="0.9"/>
<circle cx="429.80" cy="284.20" r="2.9" fill="#1437ff" stroke="#000" stroke-width="0.9"/>
<circle cx="437.30" cy="283.20" r="2.9" fill="#1437ff" stroke="#000" stroke-width="0.9"/>
<circle cx="444.70" cy="281.20" r="2.9" fill="#1437ff" stroke="#000" stroke-width="0.9"/>
<circle cx="429.80" cy="294.90" r="2.9" fill="#1437ff" stroke="#000" stroke-width="0.9"/>
<circle cx="437.30" cy="294.90" r="2.9" fill="#1437ff" stroke="#000" stroke-width="0.9"/>
<circle cx="444.70" cy="293.40" r="2.9" fill="#1437ff" stroke="#000" stroke-width="0.9"/>
<circle cx="422.40" cy="298.40" r="2.9" fill="#1437ff" stroke="#000" stroke-width="0.9"/>
<circle cx="444.70" cy="299.10" r="2.9" fill="#1437ff" stroke="#000" stroke-width="0.9"/>
<circle cx="429.80" cy="303.10" r="2.9" fill="#1437ff" stroke="#000" stroke-width="0.9"/>
<circle cx="437.30" cy="303.60" r="2.9" fill="#1437ff" stroke="#000" stroke-width="0.9"/>
<circle cx="433.60" cy="312.30" r="2.9" fill="#1437ff" stroke="#000" stroke-width="0.9"/>
<circle cx="475.30" cy="223.90" r="2.9" fill="#ff2a00" stroke="#000" stroke-width="0.9"/>
<circle cx="475.30" cy="265.10" r="2.9" fill="#ff2a00" stroke="#000" stroke-width="0.9"/>
<circle cx="475.30" cy="273.80" r="2.9" fill="#ff2a00" stroke="#000" stroke-width="0.9"/>
<circle cx="469.60" cy="282.20" r="2.9" fill="#ff2a00" stroke="#000" stroke-width="0.9"/>
<circle cx="475.30" cy="284.70" r="2.9" fill="#ff2a00" stroke="#000" stroke-width="0.9"/>
<circle cx="481.00" cy="282.20" r="2.9" fill="#ff2a00" stroke="#000" stroke-width="0.9"/>
<circle cx="464.10" cy="291.20" r="2.9" fill="#ff2a00" stroke="#000" stroke-width="0.9"/>
<circle cx="486.90" cy="291.70" r="2.9" fill="#ff2a00" stroke="#000" stroke-width="0.9"/>
<circle cx="469.60" cy="293.60" r="2.9" fill="#ff2a00" stroke="#000" stroke-width="0.9"/>
<circle cx="475.30" cy="296.10" r="2.9" fill="#ff2a00" stroke="#000" stroke-width="0.9"/>
<circle cx="481.00" cy="296.60" r="2.9" fill="#ff2a00" stroke="#000" stroke-width="0.9"/>
<circle cx="469.60" cy="300.30" r="2.9" fill="#ff2a00" stroke="#000" stroke-width="0.9"/>
<text x="530.50" y="199.90" font-size="21.5" text-anchor="start" fill="#000" stroke="#000" stroke-width="0.15">h</text>
<line x1="580.30" y1="219.00" x2="580.30" y2="317.30" stroke="#000" stroke-width="1.1"/>
<line x1="576.40" y1="219.00" x2="580.30" y2="219.00" stroke="#000" stroke-width="1.1"/>
<text x="575.10" y="222.25" font-size="9.7" text-anchor="end" fill="#000" stroke="#000" stroke-width="0.15">40</text>
<line x1="576.40" y1="238.66" x2="580.30" y2="238.66" stroke="#000" stroke-width="1.1"/>
<text x="575.10" y="241.91" font-size="9.7" text-anchor="end" fill="#000" stroke="#000" stroke-width="0.15">20</text>
<line x1="576.40" y1="258.32" x2="580.30" y2="258.32" stroke="#000" stroke-width="1.1"/>
<text x="575.10" y="261.57" font-size="9.7" text-anchor="end" fill="#000" stroke="#000" stroke-width="0.15">0</text>
<line x1="576.40" y1="277.98" x2="580.30" y2="277.98" stroke="#000" stroke-width="1.1"/>
<text x="575.10" y="281.23" font-size="9.7" text-anchor="end" fill="#000" stroke="#000" stroke-width="0.15">-20</text>
<line x1="576.40" y1="297.64" x2="580.30" y2="297.64" stroke="#000" stroke-width="1.1"/>
<text x="575.10" y="300.89" font-size="9.7" text-anchor="end" fill="#000" stroke="#000" stroke-width="0.15">-40</text>
<line x1="576.40" y1="317.30" x2="580.30" y2="317.30" stroke="#000" stroke-width="1.1"/>
<text x="575.10" y="320.55" font-size="9.7" text-anchor="end" fill="#000" stroke="#000" stroke-width="0.15">-60</text>
<line x1="580.30" y1="317.30" x2="679.10" y2="317.30" stroke="#000" stroke-width="1.1"/>
<line x1="580.30" y1="258.50" x2="678.60" y2="258.50" stroke="#111" stroke-width="1.0" stroke-dasharray="1.1,0.9"/>
<line x1="608.90" y1="317.30" x2="608.90" y2="320.90" stroke="#000" stroke-width="1.1"/>
<line x1="651.00" y1="317.30" x2="651.00" y2="320.90" stroke="#000" stroke-width="1.1"/>
<text x="608.90" y="332.20" font-size="9.3" text-anchor="middle" fill="#000" stroke="#000" stroke-width="0.15">Alum</text>
<text x="651.00" y="332.20" font-size="9.3" text-anchor="middle" fill="#000" stroke="#000" stroke-width="0.15">ALFQA</text>
<text x="628.80" y="216.00" font-size="9.7" text-anchor="middle" fill="#000" stroke="#000" stroke-width="0.15">p=<tspan dx="0.7">0.004</tspan></text>
<text x="532.40" y="267.60" font-size="9.3" text-anchor="middle" fill="#000" stroke="#000" stroke-width="0.15" transform="rotate(-90 532.4 267.6)">Change plasma ADNP</text>
<text x="544.80" y="267.60" font-size="9.3" text-anchor="middle" fill="#000" stroke="#000" stroke-width="0.15" transform="rotate(-90 544.8000000000001 267.6)">to <tspan font-style="italic">wt</tspan> gp120</text>
<text x="555.70" y="267.60" font-size="9.3" text-anchor="middle" fill="#000" stroke="#000" stroke-width="0.15" transform="rotate(-90 555.7 267.6)">(Weeks 14/15 - baseline)</text>
<line x1="595.60" y1="259.90" x2="622.00" y2="259.90" stroke="#000" stroke-width="1.0"/>
<line x1="637.60" y1="247.40" x2="663.00" y2="247.40" stroke="#000" stroke-width="1.0"/>
<circle cx="597.60" cy="249.60" r="2.9" fill="#1437ff" stroke="#000" stroke-width="0.9"/>
<circle cx="608.90" cy="247.00" r="2.9" fill="#1437ff" stroke="#000" stroke-width="0.9"/>
<circle cx="619.90" cy="243.50" r="2.9" fill="#1437ff" stroke="#000" stroke-width="0.9"/>
<circle cx="597.60" cy="256.80" r="2.9" fill="#1437ff" stroke="#000" stroke-width="0.9"/>
<circle cx="608.90" cy="253.40" r="2.9" fill="#1437ff" stroke="#000" stroke-width="0.9"/>
<circle cx="608.90" cy="260.60" r="2.9" fill="#1437ff" stroke="#000" stroke-width="0.9"/>
<circle cx="619.90" cy="259.30" r="2.9" fill="#1437ff" stroke="#000" stroke-width="0.9"/>
<circle cx="597.60" cy="267.50" r="2.9" fill="#1437ff" stroke="#000" stroke-width="0.9"/>
<circle cx="608.90" cy="267.00" r="2.9" fill="#1437ff" stroke="#000" stroke-width="0.9"/>
<circle cx="619.90" cy="269.50" r="2.9" fill="#1437ff" stroke="#000" stroke-width="0.9"/>
<circle cx="608.90" cy="292.00" r="2.9" fill="#1437ff" stroke="#000" stroke-width="0.9"/>
<circle cx="608.90" cy="305.80" r="2.9" fill="#1437ff" stroke="#000" stroke-width="0.9"/>
<circle cx="650.90" cy="229.20" r="2.9" fill="#ff2a00" stroke="#000" stroke-width="0.9"/>
<circle cx="645.40" cy="238.70" r="2.9" fill="#ff2a00" stroke="#000" stroke-width="0.9"/>
<circle cx="650.90" cy="240.10" r="2.9" fill="#ff2a00" stroke="#000" stroke-width="0.9"/>
<circle cx="656.70" cy="238.30" r="2.9" fill="#ff2a00" stroke="#000" stroke-width="0.9"/>
<circle cx="662.20" cy="237.80" r="2.9" fill="#ff2a00" stroke="#000" stroke-width="0.9"/>
<circle cx="639.70" cy="250.70" r="2.9" fill="#ff2a00" stroke="#000" stroke-width="0.9"/>
<circle cx="650.90" cy="247.80" r="2.9" fill="#ff2a00" stroke="#000" stroke-width="0.9"/>
<circle cx="656.70" cy="247.10" r="2.9" fill="#ff2a00" stroke="#000" stroke-width="0.9"/>
<circle cx="662.20" cy="249.30" r="2.9" fill="#ff2a00" stroke="#000" stroke-width="0.9"/>
<circle cx="650.90" cy="253.80" r="2.9" fill="#ff2a00" stroke="#000" stroke-width="0.9"/>
<circle cx="656.70" cy="252.90" r="2.9" fill="#ff2a00" stroke="#000" stroke-width="0.9"/>
<circle cx="650.90" cy="263.90" r="2.9" fill="#ff2a00" stroke="#000" stroke-width="0.9"/>
<text x="36.20" y="374.60" font-size="21.5" text-anchor="start" fill="#000" stroke="#000" stroke-width="0.15">i</text>
<line x1="88.50" y1="403.40" x2="88.50" y2="502.00" stroke="#000" stroke-width="1.1"/>
<line x1="84.60" y1="403.40" x2="88.50" y2="403.40" stroke="#000" stroke-width="1.1"/>
<text x="83.30" y="406.65" font-size="9.7" text-anchor="end" fill="#000" stroke="#000" stroke-width="0.15">150</text>
<line x1="84.60" y1="428.05" x2="88.50" y2="428.05" stroke="#000" stroke-width="1.1"/>
<text x="83.30" y="431.30" font-size="9.7" text-anchor="end" fill="#000" stroke="#000" stroke-width="0.15">100</text>
<line x1="84.60" y1="452.70" x2="88.50" y2="452.70" stroke="#000" stroke-width="1.1"/>
<text x="83.30" y="455.95" font-size="9.7" text-anchor="end" fill="#000" stroke="#000" stroke-width="0.15">50</text>
<line x1="84.60" y1="477.35" x2="88.50" y2="477.35" stroke="#000" stroke-width="1.1"/>
<text x="83.30" y="480.60" font-size="9.7" text-anchor="end" fill="#000" stroke="#000" stroke-width="0.15">0</text>
<line x1="84.60" y1="502.00" x2="88.50" y2="502.00" stroke="#000" stroke-width="1.1"/>
<text x="83.30" y="505.25" font-size="9.7" text-anchor="end" fill="#000" stroke="#000" stroke-width="0.15">-50</text>
<line x1="88.50" y1="502.20" x2="188.20" y2="502.20" stroke="#000" stroke-width="1.1"/>
<line x1="88.50" y1="502.20" x2="88.50" y2="505.80" stroke="#000" stroke-width="1.1"/>
<text x="88.50" y="516.90" font-size="9.7" text-anchor="middle" fill="#000" stroke="#000" stroke-width="0.15">0</text>
<line x1="105.04" y1="502.20" x2="105.04" y2="505.80" stroke="#000" stroke-width="1.1"/>
<text x="105.04" y="516.90" font-size="9.7" text-anchor="middle" fill="#000" stroke="#000" stroke-width="0.15">2</text>
<line x1="121.58" y1="502.20" x2="121.58" y2="505.80" stroke="#000" stroke-width="1.1"/>
<text x="121.58" y="516.90" font-size="9.7" text-anchor="middle" fill="#000" stroke="#000" stroke-width="0.15">4</text>
<line x1="138.12" y1="502.20" x2="138.12" y2="505.80" stroke="#000" stroke-width="1.1"/>
<text x="138.12" y="516.90" font-size="9.7" text-anchor="middle" fill="#000" stroke="#000" stroke-width="0.15">6</text>
<line x1="154.66" y1="502.20" x2="154.66" y2="505.80" stroke="#000" stroke-width="1.1"/>
<text x="154.66" y="516.90" font-size="9.7" text-anchor="middle" fill="#000" stroke="#000" stroke-width="0.15">8</text>
<line x1="171.20" y1="502.20" x2="171.20" y2="505.80" stroke="#000" stroke-width="1.1"/>
<text x="171.20" y="516.90" font-size="9.7" text-anchor="middle" fill="#000" stroke="#000" stroke-width="0.15">10</text>
<line x1="187.74" y1="502.20" x2="187.74" y2="505.80" stroke="#000" stroke-width="1.1"/>
<text x="187.74" y="516.90" font-size="9.7" text-anchor="middle" fill="#000" stroke="#000" stroke-width="0.15">12</text>
<text x="138.70" y="529.30" font-size="9.3" text-anchor="middle" fill="#000" stroke="#000" stroke-width="0.15">N. vaginal challenges</text>
<line x1="88.50" y1="477.50" x2="188.50" y2="477.50" stroke="#111" stroke-width="1.0" stroke-dasharray="1.1,0.9"/>
<text x="38.80" y="451.60" font-size="9.3" text-anchor="middle" fill="#000" stroke="#000" stroke-width="0.15" transform="rotate(-90 38.800000000000004 451.6)">Change plasma ADNP</text>
<text x="50.50" y="451.60" font-size="9.3" text-anchor="middle" fill="#000" stroke="#000" stroke-width="0.15" transform="rotate(-90 50.5 451.6)">to Δ<tspan font-style="italic">V1</tspan> gp120</text>
<text x="62.30" y="451.60" font-size="9.3" text-anchor="middle" fill="#000" stroke="#000" stroke-width="0.15" transform="rotate(-90 62.300000000000004 451.6)">(Weeks 14/15 - baseline)</text>
<line x1="92.00" y1="387.30" x2="104.50" y2="387.30" stroke="#ff2a00" stroke-width="1.1"/>
<circle cx="98.40" cy="387.30" r="2.9" fill="#ff2a00" stroke="#000" stroke-width="0.9"/>
<text x="108.60" y="390.60" font-size="9.3" text-anchor="start" fill="#000" stroke="#000" stroke-width="0.15">ALFQA</text>
<line x1="151.20" y1="387.30" x2="164.10" y2="387.30" stroke="#1437ff" stroke-width="1.1"/>
<circle cx="157.70" cy="387.30" r="2.9" fill="#1437ff" stroke="#000" stroke-width="0.9"/>
<text x="168.50" y="390.60" font-size="9.3" text-anchor="start" fill="#000" stroke="#000" stroke-width="0.15">Alum</text>
<text x="148.40" y="407.10" font-size="9.6" text-anchor="start" fill="#2a5aff" stroke="#2a5aff" stroke-width="0.15">p= 0.022</text>
<text x="148.40" y="417.60" font-size="9.6" text-anchor="start" fill="#2a5aff" stroke="#2a5aff" stroke-width="0.15">ρ=  0.66</text>
<text x="148.40" y="432.80" font-size="9.6" text-anchor="start" fill="#ff3a1e" stroke="#ff3a1e" stroke-width="0.15">p= 0.129</text>
<text x="148.40" y="443.30" font-size="9.6" text-anchor="start" fill="#ff3a1e" stroke="#ff3a1e" stroke-width="0.15">ρ= -0.46</text>
<line x1="121.90" y1="450.40" x2="185.40" y2="472.90" stroke="#ff2a00" stroke-width="1.1"/>
<line x1="97.00" y1="489.40" x2="185.40" y2="472.10" stroke="#1437ff" stroke-width="1.1"/>
<circle cx="97.00" cy="484.40" r="2.9" fill="#1437ff" stroke="#000" stroke-width="0.9"/>
<circle cx="113.60" cy="478.20" r="2.9" fill="#1437ff" stroke="#000" stroke-width="0.9"/>
<circle cx="113.60" cy="487.80" r="2.9" fill="#1437ff" stroke="#000" stroke-width="0.9"/>
<circle cx="113.60" cy="497.00" r="2.9" fill="#1437ff" stroke="#000" stroke-width="0.9"/>
<circle cx="130.30" cy="479.60" r="2.9" fill="#1437ff" stroke="#000" stroke-width="0.9"/>
<circle cx="146.30" cy="479.60" r="2.9" fill="#1437ff" stroke="#000" stroke-width="0.9"/>
<circle cx="146.30" cy="483.30" r="2.9" fill="#1437ff" stroke="#000" stroke-width="0.9"/>
<circle cx="171.20" cy="488.50" r="2.9" fill="#1437ff" stroke="#000" stroke-width="0.9"/>
<circle cx="179.40" cy="466.00" r="2.9" fill="#1437ff" stroke="#000" stroke-width="0.9"/>
<circle cx="187.80" cy="470.50" r="2.9" fill="#1437ff" stroke="#000" stroke-width="0.9"/>
<circle cx="130.00" cy="409.00" r="2.9" fill="#ff2a00" stroke="#000" stroke-width="0.9"/>
<circle cx="121.90" cy="458.80" r="2.9" fill="#ff2a00" stroke="#000" stroke-width="0.9"/>
<circle cx="130.30" cy="467.00" r="2.9" fill="#ff2a00" stroke="#000" stroke-width="0.9"/>
<circle cx="138.30" cy="481.70" r="2.9" fill="#ff2a00" stroke="#000" stroke-width="0.9"/>
<circle cx="179.40" cy="470.00" r="2.9" fill="#ff2a00" stroke="#000" stroke-width="0.9"/>
<circle cx="187.80" cy="450.10" r="2.9" fill="#ff2a00" stroke="#000" stroke-width="0.9"/>
<circle cx="187.80" cy="467.30" r="2.9" fill="#ff2a00" stroke="#000" stroke-width="0.9"/>
<circle cx="187.80" cy="476.10" r="2.9" fill="#ff2a00" stroke="#000" stroke-width="0.9"/>
<circle cx="187.80" cy="480.10" r="2.9" fill="#ff2a00" stroke="#000" stroke-width="0.9"/>
<circle cx="187.80" cy="485.00" r="2.9" fill="#ff2a00" stroke="#000" stroke-width="0.9"/>
<text x="270.70" y="374.60" font-size="21.5" text-anchor="start" fill="#000" stroke="#000" stroke-width="0.15">j</text>
<line x1="311.60" y1="401.60" x2="311.60" y2="501.92" stroke="#000" stroke-width="1.1"/>
<line x1="307.70" y1="401.60" x2="311.60" y2="401.60" stroke="#000" stroke-width="1.1"/>
<text x="306.40" y="404.85" font-size="9.7" text-anchor="end" fill="#000" stroke="#000" stroke-width="0.15">60</text>
<line x1="307.70" y1="426.68" x2="311.60" y2="426.68" stroke="#000" stroke-width="1.1"/>
<text x="306.40" y="429.93" font-size="9.7" text-anchor="end" fill="#000" stroke="#000" stroke-width="0.15">40</text>
<line x1="307.70" y1="451.76" x2="311.60" y2="451.76" stroke="#000" stroke-width="1.1"/>
<text x="306.40" y="455.01" font-size="9.7" text-anchor="end" fill="#000" stroke="#000" stroke-width="0.15">20</text>
<line x1="307.70" y1="476.84" x2="311.60" y2="476.84" stroke="#000" stroke-width="1.1"/>
<text x="306.40" y="480.09" font-size="9.7" text-anchor="end" fill="#000" stroke="#000" stroke-width="0.15">0</text>
<line x1="307.70" y1="501.92" x2="311.60" y2="501.92" stroke="#000" stroke-width="1.1"/>
<text x="306.40" y="505.17" font-size="9.7" text-anchor="end" fill="#000" stroke="#000" stroke-width="0.15">-20</text>
<line x1="311.60" y1="501.90" x2="412.60" y2="501.90" stroke="#000" stroke-width="1.1"/>
<line x1="311.60" y1="476.50" x2="412.60" y2="476.50" stroke="#111" stroke-width="1.0" stroke-dasharray="1.1,0.9"/>
<line x1="340.60" y1="501.90" x2="340.60" y2="505.50" stroke="#000" stroke-width="1.1"/>
<line x1="384.00" y1="501.90" x2="384.00" y2="505.50" stroke="#000" stroke-width="1.1"/>
<text x="340.60" y="515.60" font-size="9.3" text-anchor="middle" fill="#000" stroke="#000" stroke-width="0.15">Alum</text>
<text x="384.00" y="515.60" font-size="9.3" text-anchor="middle" fill="#000" stroke="#000" stroke-width="0.15">ALFQA</text>
<text x="355.50" y="400.80" font-size="9.6" text-anchor="middle" fill="#000" stroke="#000" stroke-width="0.15">p= 0.003</text>
<text x="275.50" y="448.00" font-size="9.3" text-anchor="middle" fill="#000" stroke="#000" stroke-width="0.15" transform="rotate(-90 275.5 448.0)">Change % CD14<tspan font-size="6.3" dy="-3">+</tspan><tspan dy="3"> efferocytes</tspan></text>
<text x="287.80" y="448.00" font-size="9.3" text-anchor="middle" fill="#000" stroke="#000" stroke-width="0.15" transform="rotate(-90 287.8 448.0)">(Week 13-baseline)</text>
<line x1="325.70" y1="479.50" x2="354.70" y2="479.50" stroke="#000" stroke-width="1.0"/>
<line x1="369.10" y1="453.20" x2="398.20" y2="453.20" stroke="#000" stroke-width="1.0"/>
<circle cx="334.40" cy="463.40" r="2.9" fill="#1437ff" stroke="#000" stroke-width="0.9"/>
<circle cx="346.80" cy="461.70" r="2.9" fill="#1437ff" stroke="#000" stroke-width="0.9"/>
<circle cx="334.40" cy="480.80" r="2.9" fill="#1437ff" stroke="#000" stroke-width="0.9"/>
<circle cx="346.80" cy="478.30" r="2.9" fill="#1437ff" stroke="#000" stroke-width="0.9"/>
<circle cx="346.80" cy="487.70" r="2.9" fill="#1437ff" stroke="#000" stroke-width="0.9"/>
<circle cx="334.40" cy="491.90" r="2.9" fill="#1437ff" stroke="#000" stroke-width="0.9"/>
<circle cx="384.00" cy="407.80" r="2.9" fill="#ff2a00" stroke="#000" stroke-width="0.9"/>
<circle cx="372.40" cy="440.10" r="2.9" fill="#ff2a00" stroke="#000" stroke-width="0.9"/>
<circle cx="384.00" cy="439.80" r="2.9" fill="#ff2a00" stroke="#000" stroke-width="0.9"/>
<circle cx="395.20" cy="434.40" r="2.9" fill="#ff2a00" stroke="#000" stroke-width="0.9"/>
<circle cx="372.40" cy="451.70" r="2.9" fill="#ff2a00" stroke="#000" stroke-width="0.9"/>
<circle cx="384.00" cy="455.00" r="2.9" fill="#ff2a00" stroke="#000" stroke-width="0.9"/>
<circle cx="395.20" cy="447.50" r="2.9" fill="#ff2a00" stroke="#000" stroke-width="0.9"/>
<circle cx="372.40" cy="458.70" r="2.9" fill="#ff2a00" stroke="#000" stroke-width="0.9"/>
<circle cx="384.00" cy="463.40" r="2.9" fill="#ff2a00" stroke="#000" stroke-width="0.9"/>
<circle cx="395.20" cy="460.90" r="2.9" fill="#ff2a00" stroke="#000" stroke-width="0.9"/>
<circle cx="389.50" cy="477.80" r="2.9" fill="#ff2a00" stroke="#000" stroke-width="0.9"/>
<circle cx="377.80" cy="480.80" r="2.9" fill="#ff2a00" stroke="#000" stroke-width="0.9"/>
<text x="496.60" y="374.60" font-size="21.5" text-anchor="start" fill="#000" stroke="#000" stroke-width="0.15">k</text>
<line x1="561.60" y1="402.00" x2="561.60" y2="502.10" stroke="#000" stroke-width="1.1"/>
<line x1="557.70" y1="402.00" x2="561.60" y2="402.00" stroke="#000" stroke-width="1.1"/>
<text x="556.40" y="405.25" font-size="9.7" text-anchor="end" fill="#000" stroke="#000" stroke-width="0.15">20000</text>
<line x1="557.70" y1="422.02" x2="561.60" y2="422.02" stroke="#000" stroke-width="1.1"/>
<text x="556.40" y="425.27" font-size="9.7" text-anchor="end" fill="#000" stroke="#000" stroke-width="0.15">15000</text>
<line x1="557.70" y1="442.04" x2="561.60" y2="442.04" stroke="#000" stroke-width="1.1"/>
<text x="556.40" y="445.29" font-size="9.7" text-anchor="end" fill="#000" stroke="#000" stroke-width="0.15">10000</text>
<line x1="557.70" y1="462.06" x2="561.60" y2="462.06" stroke="#000" stroke-width="1.1"/>
<text x="556.40" y="465.31" font-size="9.7" text-anchor="end" fill="#000" stroke="#000" stroke-width="0.15">5000</text>
<line x1="557.70" y1="482.08" x2="561.60" y2="482.08" stroke="#000" stroke-width="1.1"/>
<text x="556.40" y="485.33" font-size="9.7" text-anchor="end" fill="#000" stroke="#000" stroke-width="0.15">0</text>
<line x1="557.70" y1="502.10" x2="561.60" y2="502.10" stroke="#000" stroke-width="1.1"/>
<text x="556.40" y="505.35" font-size="9.7" text-anchor="end" fill="#000" stroke="#000" stroke-width="0.15">-5000</text>
<line x1="561.60" y1="501.90" x2="661.30" y2="501.90" stroke="#000" stroke-width="1.1"/>
<line x1="561.60" y1="482.50" x2="661.30" y2="482.50" stroke="#111" stroke-width="1.0" stroke-dasharray="1.1,0.9"/>
<line x1="590.30" y1="501.90" x2="590.30" y2="505.50" stroke="#000" stroke-width="1.1"/>
<line x1="633.00" y1="501.90" x2="633.00" y2="505.50" stroke="#000" stroke-width="1.1"/>
<text x="590.30" y="517.40" font-size="9.3" text-anchor="middle" fill="#000" stroke="#000" stroke-width="0.15">Alum</text>
<text x="633.00" y="517.40" font-size="9.3" text-anchor="middle" fill="#000" stroke="#000" stroke-width="0.15">ALFQA</text>
<text x="610.20" y="402.60" font-size="9.6" text-anchor="middle" fill="#000" stroke="#000" stroke-width="0.15">p= 0.024</text>
<text x="499.10" y="449.00" font-size="9.3" text-anchor="middle" fill="#000" stroke="#000" stroke-width="0.15" transform="rotate(-90 499.1 449.0)">Change engulfing capability</text>
<text x="512.20" y="449.00" font-size="9.3" text-anchor="middle" fill="#000" stroke="#000" stroke-width="0.15" transform="rotate(-90 512.2 449.0)">of CD14<tspan font-size="6.3" dy="-3">+</tspan><tspan dy="3"> efferocytes</tspan></text>
<text x="524.00" y="449.00" font-size="9.3" text-anchor="middle" fill="#000" stroke="#000" stroke-width="0.15" transform="rotate(-90 524.0 449.0)">(Week 13-baseline)</text>
<line x1="576.00" y1="480.40" x2="604.70" y2="480.40" stroke="#000" stroke-width="1.0"/>
<line x1="619.30" y1="460.70" x2="646.70" y2="460.70" stroke="#000" stroke-width="1.0"/>
<circle cx="590.30" cy="416.10" r="2.9" fill="#1437ff" stroke="#000" stroke-width="0.9"/>
<circle cx="584.30" cy="475.30" r="2.9" fill="#1437ff" stroke="#000" stroke-width="0.9"/>
<circle cx="596.50" cy="476.40" r="2.9" fill="#1437ff" stroke="#000" stroke-width="0.9"/>
<circle cx="590.30" cy="484.40" r="2.9" fill="#1437ff" stroke="#000" stroke-width="0.9"/>
<circle cx="596.50" cy="493.10" r="2.9" fill="#1437ff" stroke="#000" stroke-width="0.9"/>
<circle cx="584.30" cy="497.30" r="2.9" fill="#1437ff" stroke="#000" stroke-width="0.9"/>
<circle cx="627.50" cy="414.30" r="2.9" fill="#ff2a00" stroke="#000" stroke-width="0.9"/>
<circle cx="638.80" cy="413.40" r="2.9" fill="#ff2a00" stroke="#000" stroke-width="0.9"/>
<circle cx="633.00" cy="422.30" r="2.9" fill="#ff2a00" stroke="#000" stroke-width="0.9"/>
<circle cx="622.00" cy="453.90" r="2.9" fill="#ff2a00" stroke="#000" stroke-width="0.9"/>
<circle cx="633.00" cy="450.80" r="2.9" fill="#ff2a00" stroke="#000" stroke-width="0.9"/>
<circle cx="644.30" cy="459.40" r="2.9" fill="#ff2a00" stroke="#000" stroke-width="0.9"/>
<circle cx="622.00" cy="463.40" r="2.9" fill="#ff2a00" stroke="#000" stroke-width="0.9"/>
<circle cx="633.00" cy="462.50" r="2.9" fill="#ff2a00" stroke="#000" stroke-width="0.9"/>
<circle cx="644.30" cy="466.70" r="2.9" fill="#ff2a00" stroke="#000" stroke-width="0.9"/>
<circle cx="633.00" cy="470.70" r="2.9" fill="#ff2a00" stroke="#000" stroke-width="0.9"/>
<circle cx="644.30" cy="474.30" r="2.9" fill="#ff2a00" stroke="#000" stroke-width="0.9"/>
<circle cx="622.00" cy="478.50" r="2.9" fill="#ff2a00" stroke="#000" stroke-width="0.9"/>
<text x="35.60" y="550.60" font-size="20.5" text-anchor="start" fill="#000" stroke="#000" stroke-width="0.15">l</text>
<text x="157.20" y="557.50" font-size="23.8" text-anchor="start" fill="#ff0000" stroke="#ff0000" stroke-width="0.15">ALFQA</text>
<text x="508.80" y="557.50" font-size="23.7" text-anchor="start" fill="#0000ff" stroke="#0000ff" stroke-width="0.15">Alum</text>
<line x1="14.50" y1="563.50" x2="661.00" y2="563.50" stroke="#000" stroke-width="2.0"/>
<text x="33.80" y="660.30" font-size="15.3" text-anchor="middle" fill="#000" stroke="#000" stroke-width="0.15" font-weight="bold" transform="rotate(-90 33.8 660.3)">Blood</text>
<text x="166.80" y="600.10" font-size="11.4" text-anchor="end" fill="#000" stroke="#000" stroke-width="0.15">AvidityScore cV2</text>
<text x="166.80" y="612.20" font-size="11.4" text-anchor="end" fill="#000" stroke="#000" stroke-width="0.15">AvidityScore dV1</text>
<text x="168.20" y="627.40" font-size="11.2" text-anchor="end" fill="#000" stroke="#000" stroke-width="0.15" font-weight="bold">Trogocytosis dV1 (Δ)</text>
<text x="168.20" y="643.20" font-size="11.4" text-anchor="end" fill="#000" stroke="#000" stroke-width="0.15">ADNP dV1 (Δ)</text>
<text x="168.20" y="658.20" font-size="11.2" text-anchor="end" fill="#000" stroke="#000" stroke-width="0.15" font-weight="bold">ADCP dV1 (Δ)</text>
<text x="166.80" y="673.30" font-size="11.4" text-anchor="end" fill="#000" stroke="#000" stroke-width="0.15">ADCC Killing</text>
<text x="166.00" y="687.30" font-size="11.4" text-anchor="end" fill="#a000ff" stroke="#a000ff" stroke-width="0.15">V2-specific</text>
<text x="166.00" y="699.10" font-size="11.4" text-anchor="end" fill="#a000ff" stroke="#a000ff" stroke-width="0.15">ADCC Killing</text>
<text x="166.00" y="714.90" font-size="11.4" text-anchor="end" fill="#000" stroke="#000" stroke-width="0.15">ADCC Titer</text>
<path d="M46.6,629.3 L52.5,623.8 L48.901,623.8 L48.901,619.3 L44.299,619.3 L44.299,623.8 L40.7,623.8 Z" fill="none" stroke="#ff0000" stroke-width="1.2" stroke-linejoin="miter"/>
<path d="M84.7,649.6 L90.6,655.4 L87.001,655.4 L87.001,659.6 L82.399,659.6 L82.399,655.4 L78.8,655.4 Z" fill="#ff0000"/>
<text x="221.00" y="594.90" font-size="11.2" text-anchor="start" fill="#000" stroke="#000" stroke-width="0.15" font-weight="bold">peptide26</text>
<text x="221.00" y="606.30" font-size="11.2" text-anchor="start" fill="#000" stroke="#000" stroke-width="0.15" font-weight="bold">Ab response</text>
<text x="221.00" y="627.30" font-size="11.4" text-anchor="start" fill="#000" stroke="#000" stroke-width="0.15">Trogocytosis WT (Δ)</text>
<text x="221.00" y="643.80" font-size="11.2" text-anchor="start" fill="#000" stroke="#000" stroke-width="0.15" font-weight="bold">ADNP WT (Δ)</text>
<text x="221.00" y="660.00" font-size="11.4" text-anchor="start" fill="#000" stroke="#000" stroke-width="0.15">ADCP WT (Δ)</text>
<text x="221.00" y="682.40" font-size="11.2" text-anchor="start" fill="#000" stroke="#000" stroke-width="0.15" font-weight="bold">gp120 Ab titers</text>
<path d="M295.34999999999997,588.2 L301.5,594.1740000000001 L297.7485,594.1740000000001 L297.7485,598.5 L292.95149999999995,598.5 L292.95149999999995,594.1740000000001 L289.2,594.1740000000001 Z" fill="#ff0000"/>
<path d="M301.3,633.7 L307.3,639.7900000000001 L303.64,639.7900000000001 L303.64,644.2 L298.96000000000004,644.2 L298.96000000000004,639.7900000000001 L295.3,639.7900000000001 Z" fill="#ff0000"/>
<path d="M314.55,684.4000000000001 L320.8,679.065 L316.9875,679.065 L316.9875,674.7 L312.1125,674.7 L312.1125,679.065 L308.3,679.065 Z" fill="none" stroke="#ff0000" stroke-width="1.2" stroke-linejoin="miter"/>
<line x1="174.50" y1="595.80" x2="214.50" y2="595.80" stroke="#ff0000" stroke-width="2.3"/>
<path d="M170.5,595.8 L176.1,592.5999999999999 L175.54,595.8 L176.1,599.0 Z" fill="#ff0000" stroke="#ff0000" stroke-width="0.4" stroke-linejoin="miter"/>
<path d="M219.0,595.8 L213.4,592.5999999999999 L213.96,595.8 L213.4,599.0 Z" fill="#ff0000" stroke="#ff0000" stroke-width="0.4" stroke-linejoin="miter"/>
<path d="M174.5,608.3 C182,608.3 186,610 186,618 L186,632 C186,637 184,639 180,639.4" stroke="#ff0000" stroke-width="2.0" fill="none"/>
<path d="M183,609.3 C193,611 196,622 199,629 C201,634 204,638 210,639.2" stroke="#ff0000" stroke-width="1.3" fill="none"/>
<path d="M170.5,608.3 L176.1,605.0999999999999 L175.54,608.3 L176.1,611.5 Z" fill="#ff0000" stroke="#ff0000" stroke-width="0.4" stroke-linejoin="miter"/>
<line x1="174.50" y1="624.10" x2="214.50" y2="624.10" stroke="#000" stroke-width="2.3"/>
<path d="M176,623.8 C181,625 182.5,628 182.5,631.5 C182.5,635 181,638 176,639.4" stroke="#ff0000" stroke-width="2.0" fill="none"/>
<path d="M213.5,623.8 C209,625 207,628 207,631.5 C207,635 209,638 213.5,639.4" stroke="#ff0000" stroke-width="2.2" fill="none"/>
<path d="M176,624.1 C186,626 196,633 206,638.8" stroke="#ff0000" stroke-width="1.2" fill="none"/>
<path d="M184.3,638.6 C193,637 198,628 204.4,624.6" stroke="#000" stroke-width="1.2" fill="none"/>
<line x1="174.50" y1="639.40" x2="214.00" y2="639.40" stroke="#ff0000" stroke-width="2.5"/>
<path d="M219.0,639.4 L213.4,636.1 L213.96,639.4 L213.4,642.6999999999999 Z" fill="#ff0000" stroke="#ff0000" stroke-width="0.4" stroke-linejoin="miter"/>
<path d="M170.5,639.4 L176.1,636.1999999999999 L175.54,639.4 L176.1,642.6 Z" fill="#000" stroke="#000" stroke-width="0.4" stroke-linejoin="miter"/>
<path d="M219.0,624.1 L213.4,620.9 L213.96,624.1 L213.4,627.3000000000001 Z" fill="#000" stroke="#000" stroke-width="0.4" stroke-linejoin="miter"/>
<path d="M170.5,624.1 L176.1,620.9 L175.54,624.1 L176.1,627.3000000000001 Z" fill="#000" stroke="#000" stroke-width="0.4" stroke-linejoin="miter"/>
<path d="M180.8,639.8 C183,641 183.3,645 183,648 C182.5,652 180,654.5 176,654.7" stroke="#ff0000" stroke-width="1.3" fill="none"/>
<line x1="174.50" y1="654.50" x2="214.00" y2="654.50" stroke="#ff0000" stroke-width="2.5"/>
<path d="M170.5,654.7 L176.1,651.4000000000001 L175.54,654.7 L176.1,658.0 Z" fill="#ff0000" stroke="#ff0000" stroke-width="0.4" stroke-linejoin="miter"/>
<path d="M175,671.4 L187,671.4 C194,671.4 196,662 201,658 C205,655 208,654.7 213,654.7" stroke="#000" stroke-width="1.3" fill="none"/>
<path d="M219.0,654.7 L213.4,651.5 L213.96,654.7 L213.4,657.9000000000001 Z" fill="#000" stroke="#000" stroke-width="0.4" stroke-linejoin="miter"/>
<path d="M175,671.4 L188,671.4 C195,671.4 198,679.3 209,679.3 L214,679.3" stroke="#ff0000" stroke-width="1.5" fill="none"/>
<path d="M219.0,679.3 L213.4,676.0999999999999 L213.96,679.3 L213.4,682.5 Z" fill="#ff0000" stroke="#ff0000" stroke-width="0.4" stroke-linejoin="miter"/>
<path d="M170.5,671.4 L176.1,668.1999999999999 L175.54,671.4 L176.1,674.6 Z" fill="#000" stroke="#000" stroke-width="0.4" stroke-linejoin="miter"/>
<path d="M174.5,693.5 C181,694 181.5,699 181.5,702 C181.5,705 181,709.5 174.5,710" stroke="#000" stroke-width="1.5" fill="none"/>
<path d="M170.5,693.5 L176.1,690.3 L175.54,693.5 L176.1,696.7 Z" fill="#000" stroke="#000" stroke-width="0.4" stroke-linejoin="miter"/>
<path d="M170.5,710.0 L176.1,706.8 L175.54,710.0 L176.1,713.2 Z" fill="#000" stroke="#000" stroke-width="0.4" stroke-linejoin="miter"/>
<text x="491.10" y="576.00" font-size="12.0" text-anchor="end" fill="#000" stroke="#000" stroke-width="0.15">Vaginal secretions</text>
<text x="491.10" y="588.40" font-size="11.4" text-anchor="end" fill="#000" stroke="#000" stroke-width="0.15">dV1 Ab titers</text>
<text x="491.10" y="600.50" font-size="11.4" text-anchor="end" fill="#000" stroke="#000" stroke-width="0.15">AvidityScore cV2</text>
<text x="491.10" y="612.30" font-size="11.4" text-anchor="end" fill="#000" stroke="#000" stroke-width="0.15">AvidityScore dV1</text>
<text x="491.90" y="627.10" font-size="11.2" text-anchor="end" fill="#000" stroke="#000" stroke-width="0.15" font-weight="bold">Trogocytosis dV1 (Δ)</text>
<text x="492.30" y="643.60" font-size="11.4" text-anchor="end" fill="#a000ff" stroke="#a000ff" stroke-width="0.15">ADNP dV1 (Δ)</text>
<text x="491.10" y="673.20" font-size="11.4" text-anchor="end" fill="#a000ff" stroke="#a000ff" stroke-width="0.15">ADCC Killing</text>
<text x="491.10" y="687.30" font-size="11.4" text-anchor="end" fill="#a000ff" stroke="#a000ff" stroke-width="0.15">V2-specific</text>
<text x="491.10" y="699.00" font-size="11.4" text-anchor="end" fill="#a000ff" stroke="#a000ff" stroke-width="0.15">ADCC Killing</text>
<text x="491.10" y="714.60" font-size="11.4" text-anchor="end" fill="#a000ff" stroke="#a000ff" stroke-width="0.15">ADCC Titer</text>
<path d="M372.9,618.3 L378.4,623.9839999999999 L375.04499999999996,623.9839999999999 L375.04499999999996,628.0999999999999 L370.755,628.0999999999999 L370.755,623.9839999999999 L367.4,623.9839999999999 Z" fill="#0000ff"/>
<text x="545.60" y="594.90" font-size="11.2" text-anchor="start" fill="#000" stroke="#000" stroke-width="0.15" font-weight="bold">peptide26</text>
<text x="545.60" y="606.20" font-size="11.2" text-anchor="start" fill="#000" stroke="#000" stroke-width="0.15" font-weight="bold">Ab response</text>
<text x="545.60" y="627.50" font-size="11.4" text-anchor="start" fill="#000" stroke="#000" stroke-width="0.15">Trogocytosis WT (Δ)</text>
<text x="545.60" y="660.20" font-size="11.4" text-anchor="start" fill="#000" stroke="#000" stroke-width="0.15">ADCP WT (Δ)</text>
<text x="544.90" y="716.40" font-size="11.2" text-anchor="start" fill="#a000ff" stroke="#a000ff" stroke-width="0.15" font-weight="bold">Engulfing</text>
<text x="544.90" y="728.20" font-size="11.2" text-anchor="start" fill="#a000ff" stroke="#a000ff" stroke-width="0.15" font-weight="bold">Capability</text>
<text x="544.90" y="742.20" font-size="11.2" text-anchor="start" fill="#a000ff" stroke="#a000ff" stroke-width="0.15" font-weight="bold">% CD14<tspan font-size="7" dy="-4">+</tspan></text>
<text x="544.90" y="754.30" font-size="11.2" text-anchor="start" fill="#a000ff" stroke="#a000ff" stroke-width="0.15" font-weight="bold">efferocytes<tspan font-size="7" dy="-4">*</tspan></text>
<path d="M623.8,602.6 L629.6,596.99 L626.0619999999999,596.99 L626.0619999999999,592.4 L621.538,592.4 L621.538,596.99 L618.0,596.99 Z" fill="none" stroke="#0000ff" stroke-width="1.2" stroke-linejoin="miter"/>
<path d="M609.15,721.6 L615.0,715.44 L611.4315,715.44 L611.4315,710.4 L606.8684999999999,710.4 L606.8684999999999,715.44 L603.3,715.44 Z" fill="none" stroke="#0000ff" stroke-width="1.2" stroke-linejoin="miter"/>
<path d="M615.1,747.5 L620.8,741.725 L617.323,741.725 L617.323,737.0 L612.8770000000001,737.0 L612.8770000000001,741.725 L609.4,741.725 Z" fill="none" stroke="#0000ff" stroke-width="1.2" stroke-linejoin="miter"/>
<path d="M499.5,578.3 C504.5,578.8 506.2,582 506.2,589 L506.2,601 C506.2,605.5 504.5,608.2 499.5,608.5" stroke="#1a6dff" stroke-width="2.2" fill="none"/>
<path d="M501,578.6 C507.5,580.5 511.5,587 511.5,599 C511.5,611 509,619 505,623.8" stroke="#1a6dff" stroke-width="1.1" fill="none"/>
<path d="M501,578.6 C506,580 508.8,587 508.8,598 C508.8,610 507,618 503.5,623.8" stroke="#1a6dff" stroke-width="1.1" fill="none"/>
<path d="M501,608.8 C505,610 507,613 507,616 C507,619 505.5,621.5 503.5,623.8" stroke="#1a6dff" stroke-width="1.1" fill="none"/>
<path d="M494.8,578.3 L500.40000000000003,575.0999999999999 L499.84000000000003,578.3 L500.40000000000003,581.5 Z" fill="#1a6dff" stroke="#1a6dff" stroke-width="0.4" stroke-linejoin="miter"/>
<path d="M494.8,596.3 L500.40000000000003,593.0999999999999 L499.84000000000003,596.3 L500.40000000000003,599.5 Z" fill="#1a6dff" stroke="#1a6dff" stroke-width="0.4" stroke-linejoin="miter"/>
<path d="M494.8,608.5 L500.40000000000003,605.3 L499.84000000000003,608.5 L500.40000000000003,611.7 Z" fill="#1a6dff" stroke="#1a6dff" stroke-width="0.4" stroke-linejoin="miter"/>
<path d="M499.5,596.3 C507,596.5 513,597.5 518.9,601.5 C522,604 524,609 524.6,615 C525.2,624 525.2,634 527,642 C529,650 534,654.6 538,654.9" stroke="#1a6dff" stroke-width="1.1" fill="none"/>
<line x1="499.50" y1="624.30" x2="539.50" y2="624.30" stroke="#000" stroke-width="2.3"/>
<path d="M494.8,624.3 L500.40000000000003,621.0999999999999 L499.84000000000003,624.3 L500.40000000000003,627.5 Z" fill="#000" stroke="#000" stroke-width="0.4" stroke-linejoin="miter"/>
<path d="M543.6,624.3 L538.0,621.0999999999999 L538.5600000000001,624.3 L538.0,627.5 Z" fill="#000" stroke="#000" stroke-width="0.4" stroke-linejoin="miter"/>
<path d="M499.5,639.4 C514,639.4 518,627 534,624.2" stroke="#000" stroke-width="1.3" fill="none"/>
<path d="M495.5,639.4 L501.1,636.1999999999999 L500.54,639.4 L501.1,642.6 Z" fill="#000" stroke="#000" stroke-width="0.4" stroke-linejoin="miter"/>
<path d="M499.5,670.8 C514,670.5 518,655 537,654.9" stroke="#000" stroke-width="1.3" fill="none"/>
<path d="M542.2,654.9 L536.6,651.6999999999999 L537.1600000000001,654.9 L536.6,658.1 Z" fill="#000" stroke="#000" stroke-width="0.4" stroke-linejoin="miter"/>
<path d="M636.8,594.5 L645,594.5 C650.5,594.5 653,598 653,605 L653,703 C653,710 648,714.8 641,714.8 L620.8,714.8" stroke="#1a6dff" stroke-width="1.1" fill="none"/>
<line x1="636.80" y1="591.60" x2="636.80" y2="597.40" stroke="#1a6dff" stroke-width="1.1"/>
<line x1="620.80" y1="711.60" x2="620.80" y2="718.00" stroke="#1a6dff" stroke-width="1.1"/>
<path d="M653.2,616 C653,628 648,636.5 638.5,638.1 C630,639.5 600,641 562.3,642.3 C540,643 525,645 512.2,648.2 C500,651.5 490,654.6 473.9,654.6 L428.2,655.5 C420,655.7 415.5,657.5 415.5,661 C415.5,665 418,668 421.9,668" stroke="#1a6dff" stroke-width="1.1" fill="none"/>
<line x1="421.90" y1="665.40" x2="421.90" y2="671.00" stroke="#1a6dff" stroke-width="1.1"/>
<path d="M502.8,671 C506.3,672 506.3,676 506.3,680 L506.3,688 C506.3,691 505,693 502.8,693.2" stroke="#1a6dff" stroke-width="1.9" fill="none"/>
<path d="M502.8,693.2 C507.5,696 507.5,707 502.8,710.6" stroke="#000" stroke-width="1.7" fill="none"/>
<path d="M502.8,671 C509.8,672 509.8,676 509.8,682 L509.8,702 C509.8,707 507,710 502.8,710.6" stroke="#1a6dff" stroke-width="1.0" fill="none"/>
<path d="M494.8,671.0 L500.40000000000003,667.8 L499.84000000000003,671.0 L500.40000000000003,674.2 Z" fill="#000" stroke="#000" stroke-width="0.4" stroke-linejoin="miter"/>
<path d="M494.8,693.2 L500.40000000000003,690.0 L499.84000000000003,693.2 L500.40000000000003,696.4000000000001 Z" fill="#000" stroke="#000" stroke-width="0.4" stroke-linejoin="miter"/>
<path d="M494.8,710.6 L500.40000000000003,707.4 L499.84000000000003,710.6 L500.40000000000003,713.8000000000001 Z" fill="#000" stroke="#000" stroke-width="0.4" stroke-linejoin="miter"/>
<path d="M502.8,710.6 C512,711.5 520,711.8 536,711.8" stroke="#1a6dff" stroke-width="1.1" fill="none"/>
<path d="M540.4,711.8 L534.8,708.5999999999999 L535.36,711.8 L534.8,715.0 Z" fill="#1a6dff" stroke="#1a6dff" stroke-width="0.4" stroke-linejoin="miter"/>
<path d="M511,711.6 C517,712.5 519,718 522,725 C525,732 529,737.5 536,737.7" stroke="#1a6dff" stroke-width="1.1" fill="none"/>
<path d="M540.4,737.7 L534.8,734.5 L535.36,737.7 L534.8,740.9000000000001 Z" fill="#1a6dff" stroke="#1a6dff" stroke-width="0.4" stroke-linejoin="miter"/>
<rect x="75.0" y="725.3" width="443.8" height="91.3" fill="none" stroke="#000" stroke-width="1.0"/>
<text x="107.20" y="738.50" font-size="9.0" text-anchor="start" fill="#000" stroke="#000" stroke-width="0.15">spearman R &gt; 0, p &lt; 0.05 in both ALFQA &amp; Alum</text>
<path d="M87.5,735.3 C92,733.3 97,733.3 101,735.3" stroke="#000" stroke-width="1.0" fill="none"/>
<path d="M84.3,735.3 L88.7,732.6999999999999 L88.25999999999999,735.3 L88.7,737.9 Z" fill="#000" stroke="#000" stroke-width="0.4" stroke-linejoin="miter"/>
<path d="M104.2,735.3 L99.8,732.6999999999999 L100.24000000000001,735.3 L99.8,737.9 Z" fill="#000" stroke="#000" stroke-width="0.4" stroke-linejoin="miter"/>
<text x="107.20" y="750.90" font-size="9.0" text-anchor="start" fill="#000" stroke="#000" stroke-width="0.15">spearman R &lt; 0, p &lt; 0.05 in both ALFQA &amp; Alum</text>
<line x1="87.80" y1="741.90" x2="87.80" y2="746.90" stroke="#000" stroke-width="1.0"/>
<path d="M87.8,744.7 C91,746.5 95,748.1 102.3,748.1" stroke="#000" stroke-width="1.0" fill="none"/>
<line x1="102.30" y1="744.90" x2="102.30" y2="750.70" stroke="#000" stroke-width="1.0"/>
<text x="107.20" y="762.30" font-size="9.0" text-anchor="start" fill="#ff0000" stroke="#ff0000" stroke-width="0.15">spearman R &gt; 0, p &lt; 0.05 in ALFQA</text>
<path d="M87.5,759.1 C92,757.1 97,757.1 101,759.1" stroke="#ff0000" stroke-width="1.0" fill="none"/>
<path d="M84.3,759.1 L88.7,756.5 L88.25999999999999,759.1 L88.7,761.7 Z" fill="#ff0000" stroke="#ff0000" stroke-width="0.4" stroke-linejoin="miter"/>
<path d="M104.2,759.1 L99.8,756.5 L100.24000000000001,759.1 L99.8,761.7 Z" fill="#ff0000" stroke="#ff0000" stroke-width="0.4" stroke-linejoin="miter"/>
<text x="107.20" y="775.40" font-size="9.0" text-anchor="start" fill="#ff0000" stroke="#ff0000" stroke-width="0.15">spearman R &lt; 0, p &lt; 0.05 in ALFQA</text>
<line x1="87.80" y1="766.40" x2="87.80" y2="771.40" stroke="#ff0000" stroke-width="1.0"/>
<path d="M87.8,769.2 C91,771.0 95,772.6 102.3,772.6" stroke="#ff0000" stroke-width="1.0" fill="none"/>
<line x1="102.30" y1="769.40" x2="102.30" y2="775.20" stroke="#ff0000" stroke-width="1.0"/>
<text x="107.20" y="787.80" font-size="9.0" text-anchor="start" fill="#1a6dff" stroke="#1a6dff" stroke-width="0.15">spearman R &gt; 0, p &lt; 0.05 in Alum</text>
<path d="M87.5,784.6 C92,782.6 97,782.6 101,784.6" stroke="#1a6dff" stroke-width="1.0" fill="none"/>
<path d="M84.3,784.6 L88.7,782.0 L88.25999999999999,784.6 L88.7,787.2 Z" fill="#1a6dff" stroke="#1a6dff" stroke-width="0.4" stroke-linejoin="miter"/>
<path d="M104.2,784.6 L99.8,782.0 L100.24000000000001,784.6 L99.8,787.2 Z" fill="#1a6dff" stroke="#1a6dff" stroke-width="0.4" stroke-linejoin="miter"/>
<text x="107.20" y="800.40" font-size="9.0" text-anchor="start" fill="#1a6dff" stroke="#1a6dff" stroke-width="0.15">spearman R &lt; 0, p &lt; 0.05 in Alum</text>
<line x1="87.80" y1="791.40" x2="87.80" y2="796.40" stroke="#1a6dff" stroke-width="1.0"/>
<path d="M87.8,794.2 C91,796.0 95,797.6 102.3,797.6" stroke="#1a6dff" stroke-width="1.0" fill="none"/>
<line x1="102.30" y1="794.40" x2="102.30" y2="800.20" stroke="#1a6dff" stroke-width="1.0"/>
<text x="107.20" y="811.50" font-size="9.0" text-anchor="start" fill="#000" stroke="#000" stroke-width="0.15">spearman p &lt; 0.01</text>
<path d="M88,809.8 C93,805.8 99,805.8 102.5,808.8" stroke="#000" stroke-width="1.8" fill="none"/>
<text x="330.50" y="736.00" font-size="8.1" text-anchor="start" fill="#000" stroke="#000" stroke-width="0.15" font-weight="bold">MW p &lt; 0.05</text>
<path d="M335.65,739.6 L340.3,744.124 L337.46349999999995,744.124 L337.46349999999995,747.4 L333.8365,747.4 L333.8365,744.124 L331.0,744.124 Z" fill="#ff0000"/>
<path d="M347.8,747.8 L352.6,743.4 L349.672,743.4 L349.672,739.8 L345.928,739.8 L345.928,743.4 L343.0,743.4 Z" fill="none" stroke="#0000ff" stroke-width="1.2" stroke-linejoin="miter"/>
<text x="357.30" y="746.70" font-size="8.1" text-anchor="start" fill="#000" stroke="#000" stroke-width="0.15" font-weight="bold">ALFQA &gt; ALUM</text>
<path d="M336.0,758.2 L340.8,753.69 L337.872,753.69 L337.872,750.0 L334.128,750.0 L334.128,753.69 L331.2,753.69 Z" fill="none" stroke="#ff0000" stroke-width="1.2" stroke-linejoin="miter"/>
<path d="M347.84999999999997,750.0 L352.5,754.524 L349.66349999999994,754.524 L349.66349999999994,757.8 L346.0365,757.8 L346.0365,754.524 L343.2,754.524 Z" fill="#0000ff"/>
<text x="357.30" y="757.00" font-size="8.1" text-anchor="start" fill="#000" stroke="#000" stroke-width="0.15" font-weight="bold">ALFQA &lt; ALUM</text>
<text x="330.50" y="769.80" font-size="8.1" text-anchor="start" fill="#000" stroke="#000" stroke-width="0.15">MW p &gt; 0.05</text>
<text x="330.50" y="780.40" font-size="8.1" text-anchor="start" fill="#0000ff" stroke="#0000ff" stroke-width="0.15" font-weight="bold">*MW p &lt; 0.05, ALFQA &lt; ALUM at Baseline</text>
<text x="330.50" y="790.40" font-size="8.1" text-anchor="start" fill="#a000ff" stroke="#a000ff" stroke-width="0.15">spearman with TOA p &lt; 0.05, R &gt; 0</text>
<text x="330.50" y="800.90" font-size="8.1" text-anchor="start" fill="#000" stroke="#000" stroke-width="0.15"><tspan font-size="5.5" dy="-3">†</tspan><tspan dy="3">no TOA measured in Alum group</tspan></text>
</svg>
</body></html>
